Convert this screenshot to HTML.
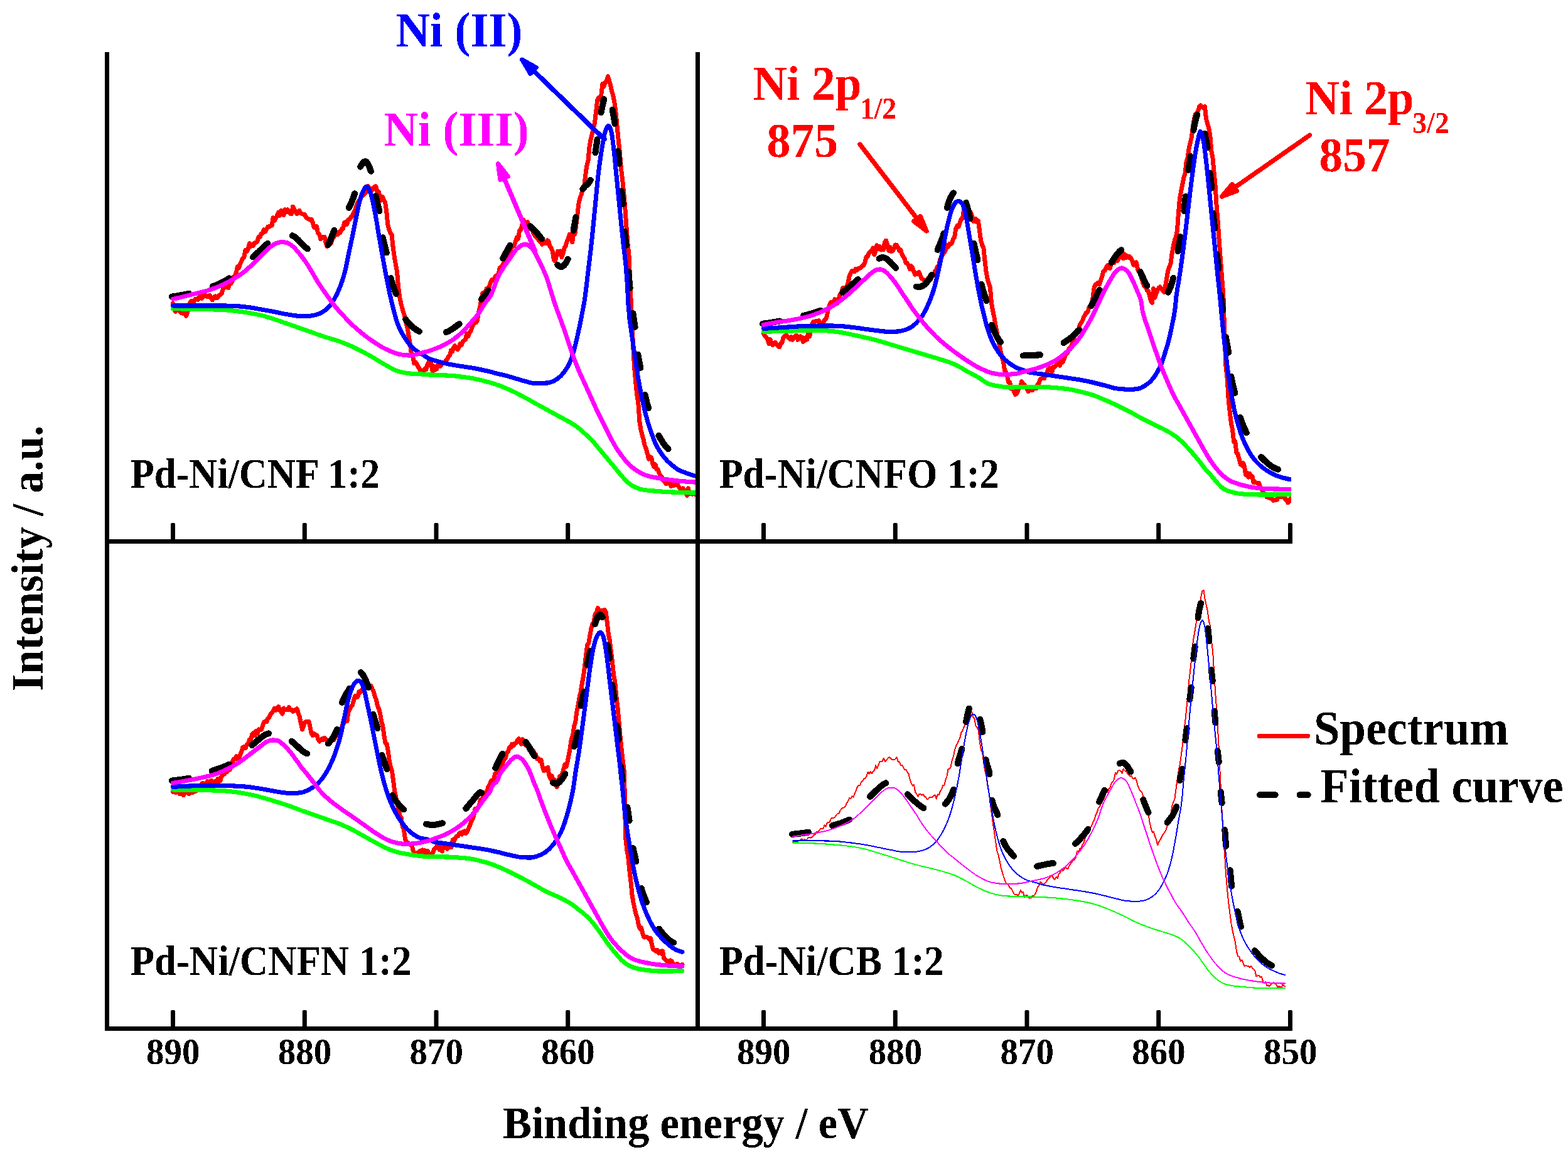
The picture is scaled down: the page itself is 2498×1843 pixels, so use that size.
<!DOCTYPE html>
<html lang="en"><head><meta charset="utf-8"><title>Ni 2p XPS spectra</title>
<style>html,body{margin:0;padding:0;background:#fff}body{width:2498px;height:1843px;overflow:hidden}svg{display:block}text{font-family:"Liberation Serif","Times New Roman",serif;font-weight:bold}</style></head><body>
<svg xmlns="http://www.w3.org/2000/svg" width="2498" height="1843" viewBox="0 0 2498 1843">
<rect width="2498" height="1843" fill="#fff"/>
<g fill="none" stroke-linejoin="round" stroke-linecap="round" clip-path="url(#c_p1)">
<polyline filter="url(#th_p1)" stroke="#ff0000" stroke-width="7" points="275.5,483.2 277.6,492.6 279.7,496.4 281.8,493.3 283.9,494.6 286.0,494.4 288.1,498.1 290.2,496.7 292.3,499.7 294.4,492.5 296.5,503.2 298.6,498.2 300.7,491.3 302.8,481.9 304.9,479.1 307.0,480.2 309.1,480.2 311.2,476.4 313.3,475.9 315.4,477.7 317.5,472.5 319.6,470.1 321.7,475.5 323.8,472.1 325.9,468.3 328.0,471.8 330.1,473.0 332.2,471.0 334.3,470.3 336.4,475.1 338.5,477.8 340.6,474.2 342.7,472.0 344.8,474.4 346.9,474.3 349.0,469.9 351.1,469.9 353.2,467.8 355.3,460.4 357.4,455.7 359.5,457.8 361.6,456.7 363.7,458.7 365.8,450.8 367.9,451.6 370.0,448.4 372.1,440.5 374.2,439.4 376.3,434.0 378.4,424.8 380.5,426.6 382.6,420.6 384.7,415.9 386.8,411.3 388.9,409.2 391.0,398.4 393.1,400.5 395.2,397.2 397.3,387.5 399.4,392.2 401.5,389.3 403.6,391.4 405.7,386.6 407.8,386.2 409.9,384.6 412.0,377.3 414.1,377.8 416.2,372.1 418.3,371.2 420.4,365.9 422.5,368.8 424.6,365.4 426.7,361.0 428.8,361.1 430.9,360.4 433.0,359.4 435.1,346.7 437.2,351.7 439.3,347.9 441.4,343.5 443.5,338.4 445.6,343.6 447.7,335.4 449.8,340.7 451.9,342.7 454.0,333.9 456.1,337.5 458.2,334.0 460.3,337.7 462.4,340.3 464.5,340.9 466.6,329.1 468.7,332.9 470.8,337.3 472.9,340.6 475.0,338.0 477.1,335.5 479.2,339.8 481.3,340.3 483.4,341.4 485.5,341.5 487.6,346.5 489.7,348.0 491.8,348.6 493.9,350.2 496.0,349.2 498.1,354.1 500.2,362.1 502.3,361.0 504.4,360.4 506.5,371.7 508.6,372.6 510.7,380.6 512.8,377.5 514.9,378.5 517.0,377.4 519.1,387.4 521.2,392.7 523.3,383.6 525.4,384.6 527.5,387.3 529.6,380.0 531.7,377.8 533.8,373.9 535.9,372.9 538.0,373.8 540.1,369.1 542.2,370.3 544.3,364.6 546.4,364.6 548.5,354.6 550.6,353.7 552.7,357.3 554.8,349.8 556.9,349.8 559.0,345.9 561.1,344.3 563.2,338.9 565.3,335.8 567.4,328.9 569.5,323.6 571.6,320.1 573.7,317.7 575.8,312.8 577.9,311.5 580.0,309.7 582.1,307.7 584.2,303.3 586.3,296.3 588.4,300.4 590.5,300.6 592.6,302.8 594.7,301.1 596.8,297.2 598.9,296.8 601.0,305.5 603.1,305.1 605.2,313.3 607.3,319.1 609.4,313.3 611.5,319.0 613.6,322.4 615.7,336.5 617.8,358.2 619.9,365.7 622.0,371.2 624.1,373.8 626.2,394.3 628.3,409.3 630.4,421.5 632.5,432.6 634.6,456.6 636.7,473.4 638.8,483.3 640.9,491.5 643.0,498.5 645.1,505.6 647.2,515.4 649.3,523.9 651.4,536.8 653.5,549.2 655.6,565.3 657.7,568.2 659.8,578.9 661.9,576.7 664.0,579.3 666.1,584.1 668.2,587.0 670.3,593.4 672.4,593.1 674.5,590.9 676.6,587.4 678.7,588.7 680.8,580.9 682.9,576.7 685.0,581.7 687.1,579.4 689.2,591.8 691.2,583.3 693.3,589.2 695.4,588.1 697.5,580.1 699.6,583.1 701.7,583.2 703.8,580.0 705.9,577.9 708.0,578.4 710.1,574.3 712.2,572.7 714.3,568.3 716.4,566.7 718.5,558.0 720.6,559.9 722.7,553.9 724.8,550.7 726.9,554.0 729.0,556.9 731.1,553.5 733.2,547.5 735.3,549.2 737.4,543.7 739.5,542.4 741.6,540.7 743.7,531.0 745.8,535.9 747.9,529.4 750.0,527.3 752.1,521.3 754.2,517.1 756.3,514.0 758.4,513.8 760.5,510.0 762.6,497.2 764.7,488.7 766.8,476.9 768.9,466.8 771.0,468.5 773.1,465.6 775.2,459.6 777.3,458.8 779.4,456.9 781.5,449.9 783.6,445.4 785.7,446.2 787.8,443.1 789.9,439.1 792.0,439.0 794.1,436.9 796.2,426.3 798.3,425.8 800.4,422.7 802.5,418.4 804.6,415.8 806.7,407.9 808.8,407.7 810.9,407.9 813.0,400.6 815.1,392.7 817.2,392.8 819.3,391.0 821.4,384.5 823.5,377.8 825.6,380.0 827.7,366.9 829.8,365.8 831.9,358.1 834.0,350.4 836.1,355.7 838.2,354.6 840.3,353.6 842.4,363.4 844.5,364.5 846.6,363.0 848.7,368.8 850.8,373.7 852.9,376.9 855.0,378.1 857.1,380.5 859.2,384.4 861.3,384.3 863.4,389.5 865.5,386.4 867.6,386.9 869.7,387.6 871.8,382.8 873.9,383.9 876.0,392.9 878.1,395.0 880.2,400.0 882.3,413.5 884.4,416.0 886.5,407.7 888.6,400.1 890.7,403.9 892.8,399.9 894.9,409.8 897.0,403.6 899.1,395.0 901.2,391.7 903.3,384.5 905.4,379.4 907.5,373.2 909.6,376.8 911.7,385.9 913.8,370.2 915.9,373.1 918.0,357.3 920.1,339.8 922.2,322.1 924.3,314.0 926.4,309.6 928.5,300.3 930.6,297.5 932.7,279.2 934.8,263.8 936.9,256.8 939.0,233.5 941.1,221.9 943.2,213.8 945.3,203.9 947.4,195.9 949.5,178.5 951.6,159.4 953.7,155.4 955.8,158.2 957.9,150.0 960.0,133.5 962.1,137.4 964.2,130.9 966.3,129.3 968.4,121.6 970.5,128.3 972.6,135.5 974.7,145.7 976.8,152.6 978.9,163.2 981.0,179.0 983.1,200.8 985.2,222.9 987.3,242.4 989.4,268.0 991.5,285.2 993.6,305.4 995.7,329.9 997.8,359.1 999.9,386.9 1002.0,407.2 1004.1,454.5 1006.2,503.2 1008.3,544.8 1010.4,582.1 1012.5,607.2 1014.6,627.9 1016.7,640.3 1018.8,670.9 1020.9,684.6 1023.0,692.2 1025.1,700.1 1027.2,710.1 1029.3,714.5 1031.4,722.6 1033.5,731.1 1035.6,727.5 1037.7,728.9 1039.8,738.9 1041.9,743.4 1044.0,739.7 1046.1,747.5 1048.2,748.0 1050.3,754.2 1052.4,758.0 1054.5,760.1 1056.6,765.3 1058.7,767.1 1060.8,770.5 1062.9,770.2 1065.0,767.3 1067.1,767.4 1069.2,774.7 1071.3,769.5 1073.4,773.5 1075.5,772.7 1077.6,771.2 1079.7,772.1 1081.8,776.2 1083.9,778.3 1086.0,781.4 1088.1,777.8 1090.2,781.4 1092.3,783.8 1094.4,789.3 1096.5,777.9 1098.6,786.6 1100.7,784.0 1102.8,787.1 1104.9,784.5 1107.0,787.1"/>
<path filter="url(#th_p1)" stroke="#000" stroke-width="10" d="M273.8 472.6 L275.9 472.3 L278.0 472.0 L280.1 471.7 L282.2 471.4 L284.2 471.0 L286.3 470.6 L288.4 470.2 L290.5 469.8 L292.6 469.4 L294.7 469.0 L296.7 468.6 L298.8 468.1 L300.9 467.7 M338.6 456.5 L340.6 455.7 L342.6 454.9 L344.5 454.1 L346.5 453.2 L348.4 452.3 L350.3 451.4 L352.3 450.5 L354.2 449.6 L356.0 448.6 L357.9 447.6 L359.8 446.5 L361.6 445.5 L363.5 444.4 L365.3 443.3 M403.0 409.6 L404.5 408.2 L406.0 406.9 L407.4 405.5 L408.8 404.1 L410.3 402.7 L411.7 401.3 L413.2 399.9 L414.6 398.5 L416.1 397.1 L417.5 395.7 L419.0 394.4 L420.5 393.0 L422.0 391.7 L423.5 390.3 L425.0 389.0 L426.5 387.7 M465.8 375.2 L467.6 376.1 L469.3 377.1 L470.9 378.4 L472.4 379.7 L473.9 381.0 L475.3 382.4 L476.7 383.9 L478.1 385.3 L479.5 386.8 L480.9 388.3 L482.3 389.7 L483.7 391.2 L485.1 392.6 L486.6 393.9 L488.2 395.2 L489.8 396.4 M522.6 390.1 L523.6 388.3 L524.5 386.4 L525.4 384.5 L526.2 382.5 L527.0 380.6 L527.8 378.6 L528.5 376.7 L529.3 374.7 L530.1 372.7 L530.9 370.8 L531.7 368.8 L532.5 366.9 M555.8 331.0 L556.7 329.2 L557.6 327.3 L558.5 325.5 L559.3 323.6 L560.1 321.7 L560.9 319.9 L561.7 318.0 L562.4 316.1 L563.1 314.1 L563.8 312.2 L564.4 310.3 L565.0 308.3 M574.2 265.6 L575.2 263.8 L576.3 262.0 L577.4 260.3 L578.7 258.8 L580.3 257.5 L582.3 257.0 L584.0 258.0 L585.3 259.6 L586.3 261.4 L587.2 263.3 L588.0 265.1 L588.8 267.0 L589.5 268.9 L590.2 270.9 L590.9 272.8 M598.5 312.3 L599.0 314.4 L599.4 316.4 L599.9 318.4 L600.5 320.4 L601.0 322.4 L601.5 324.3 L602.0 326.3 L602.5 328.3 L603.0 330.3 L603.5 332.4 L603.9 334.4 L604.3 336.4 M609.9 378.3 L610.3 380.3 L610.7 382.3 L611.2 384.4 L611.7 386.4 L612.2 388.4 L612.7 390.4 L613.2 392.4 L613.8 394.4 L614.3 396.4 L614.8 398.4 L615.3 400.5 L615.8 402.5 M622.6 443.0 L623.1 445.0 L623.6 446.9 L624.2 448.9 L624.8 450.8 L625.4 452.7 L626.0 454.6 L626.7 456.5 L627.4 458.4 L628.1 460.3 L628.8 462.2 L629.5 464.1 L630.2 466.0 L630.9 467.9 M646.2 508.8 L647.4 510.4 L648.8 512.1 L650.1 513.7 L651.5 515.2 L652.9 516.8 L654.4 518.3 L656.0 519.7 L657.5 521.1 L659.2 522.4 L660.8 523.7 L662.6 524.9 L664.4 526.0 L666.2 527.0 L668.1 527.9 M710.8 529.1 L712.7 528.4 L714.6 527.5 L716.4 526.6 L718.2 525.5 L719.9 524.4 L721.6 523.3 L723.3 522.1 L725.0 520.9 L726.7 519.7 L728.3 518.5 L729.9 517.2 L731.6 515.9 M766.9 476.8 L768.2 475.3 L769.5 473.7 L770.8 472.2 L772.2 470.7 L773.5 469.1 L774.7 467.5 L775.9 465.9 L777.1 464.3 L778.3 462.6 M801.3 411.5 L802.3 409.5 L803.2 407.7 L804.3 405.8 L805.3 403.9 L806.3 402.0 L807.4 400.1 L808.4 398.3 L809.5 396.4 L810.5 394.5 L811.5 392.7 L812.5 390.8 M844.2 359.9 L845.7 361.2 L847.2 362.6 L848.6 364.0 L850.0 365.4 L851.4 366.8 L852.8 368.3 L854.2 369.8 L855.5 371.2 L856.8 372.8 L858.1 374.3 L859.4 375.8 L860.7 377.4 L861.9 379.0 L863.1 380.5 M888.2 421.9 L889.9 423.3 L891.7 424.4 L893.7 425.0 L895.8 424.6 L897.6 423.4 L899.1 421.9 L900.4 420.2 L901.6 418.4 L902.7 416.6 L903.7 414.7 L904.7 412.8 M913.5 367.3 L913.9 365.1 L914.2 363.0 L914.6 360.9 L915.0 358.8 L915.4 356.7 L915.8 354.6 L916.2 352.5 L916.6 350.3 L917.0 348.2 L917.4 346.1 M928.4 301.4 L929.5 299.6 L930.9 298.0 L932.4 296.4 L934.0 295.0 L935.6 293.6 L937.1 292.1 L938.5 290.4 L939.7 288.7 L940.7 286.8 M948.4 243.2 L948.7 241.1 L949.1 239.0 L949.4 236.9 L949.7 234.8 L950.0 232.7 L950.3 230.6 L950.6 228.5 L950.9 226.4 L951.2 224.3 L951.5 222.2 M957.5 179.2 L957.9 177.1 L958.3 174.9 L958.8 172.8 L959.2 170.7 L959.7 168.6 L960.2 166.4 L960.7 164.3 L961.2 162.2 L961.7 160.1 L962.2 158.0 M975.5 174.8 L975.9 176.8 L976.3 178.8 L976.7 180.8 L977.1 182.8 L977.5 184.8 L977.9 186.8 L978.2 188.8 L978.6 190.8 L978.9 192.9 L979.2 194.9 L979.5 196.9 M984.3 240.8 L984.6 242.8 L984.8 244.8 L985.0 246.8 L985.3 248.8 L985.5 250.8 L985.8 252.8 L986.0 254.8 L986.2 256.8 L986.5 258.8 L986.7 260.8 M990.3 304.8 L990.5 306.8 L990.8 308.8 L991.0 310.8 L991.3 312.8 L991.6 314.8 L991.8 316.8 L992.1 318.8 L992.3 320.8 L992.5 322.8 L992.7 324.8 M995.2 368.8 L995.4 370.8 L995.6 372.8 L995.8 374.8 L996.0 376.8 L996.3 378.8 L996.5 380.8 L996.7 382.8 L997.0 384.8 L997.2 386.8 L997.5 388.8 L997.7 390.8 M1001.2 432.8 L1001.4 434.8 L1001.6 436.8 L1001.8 438.8 L1002.0 440.8 L1002.1 442.8 L1002.3 444.8 L1002.5 446.8 L1002.7 448.8 L1002.9 450.8 L1003.1 452.9 L1003.3 454.9 L1003.5 456.9 L1003.7 458.9 M1008.4 498.9 L1008.7 500.9 L1009.0 502.9 L1009.3 504.9 L1009.6 506.9 L1009.9 508.9 L1010.2 510.9 L1010.5 512.9 L1010.8 514.9 L1011.1 516.9 L1011.3 518.9 L1011.6 520.9 M1016.4 564.9 L1016.8 567.0 L1017.1 569.1 L1017.5 571.2 L1017.9 573.3 L1018.3 575.4 L1018.8 577.6 L1019.2 579.7 L1019.6 581.8 L1020.0 583.9 L1020.5 586.0 M1027.6 628.9 L1028.1 631.0 L1028.6 633.2 L1029.1 635.3 L1029.6 637.4 L1030.2 639.5 L1030.7 641.7 L1031.3 643.8 L1031.9 645.9 L1032.5 648.0 L1033.1 650.1 M1049.4 693.6 L1050.4 695.4 L1051.4 697.2 L1052.4 699.0 L1053.5 700.7 L1054.5 702.4 L1055.6 704.2 L1056.7 705.9 L1057.9 707.6 L1059.1 709.2 L1060.4 710.8 L1061.7 712.4 L1063.1 713.9 L1064.6 715.2"/>
<polyline filter="url(#th_p1)" stroke="#00ff00" stroke-width="7" points="275.5,491.8 277.5,491.8 279.5,491.8 281.5,491.8 283.5,491.8 285.5,491.8 287.5,491.9 289.5,491.9 291.5,491.9 293.5,491.9 295.5,492.0 297.5,492.0 299.5,492.0 301.5,492.1 303.5,492.1 305.5,492.1 307.5,492.2 309.5,492.2 311.5,492.2 313.5,492.3 315.5,492.3 317.5,492.3 319.5,492.4 321.5,492.4 323.5,492.5 325.5,492.5 327.5,492.6 329.5,492.6 331.5,492.7 333.5,492.7 335.5,492.8 337.5,492.8 339.5,492.9 341.5,493.0 343.5,493.1 345.5,493.1 347.5,493.2 349.5,493.3 351.5,493.4 353.5,493.5 355.5,493.6 357.5,493.7 359.4,493.8 361.4,493.9 363.4,494.1 365.4,494.3 367.4,494.5 369.4,494.7 371.4,494.9 373.4,495.2 375.4,495.4 377.4,495.6 379.4,495.9 381.4,496.1 383.4,496.4 385.4,496.7 387.4,497.0 389.4,497.3 391.4,497.6 393.4,497.9 395.4,498.3 397.4,498.6 399.4,499.0 401.4,499.3 403.4,499.7 405.4,500.1 407.4,500.4 409.4,500.8 411.4,501.3 413.4,501.7 415.4,502.1 417.4,502.6 419.4,503.1 421.4,503.6 423.4,504.2 425.4,504.8 427.4,505.4 429.4,506.0 431.4,506.7 433.4,507.3 435.4,508.0 437.4,508.6 439.4,509.3 441.4,510.0 443.4,510.6 445.4,511.4 447.4,512.1 449.4,512.8 451.4,513.5 453.4,514.2 455.4,514.9 457.4,515.6 459.4,516.3 461.4,517.0 463.4,517.7 465.4,518.4 467.4,519.1 469.4,519.8 471.4,520.5 473.4,521.2 475.4,521.9 477.4,522.6 479.4,523.3 481.4,524.0 483.4,524.7 485.4,525.4 487.4,526.1 489.4,526.8 491.4,527.5 493.4,528.2 495.4,528.9 497.4,529.6 499.4,530.3 501.4,531.0 503.4,531.8 505.4,532.5 507.4,533.2 509.4,533.9 511.4,534.6 513.4,535.3 515.4,535.9 517.4,536.6 519.4,537.2 521.4,537.8 523.4,538.3 525.3,538.9 527.3,539.5 529.3,540.1 531.3,540.7 533.3,541.3 535.3,541.9 537.3,542.6 539.3,543.3 541.3,544.0 543.3,544.8 545.3,545.5 547.3,546.3 549.3,547.1 551.3,547.9 553.3,548.7 555.3,549.5 557.3,550.4 559.3,551.3 561.3,552.2 563.3,553.1 565.3,554.0 567.3,555.0 569.3,556.0 571.3,557.0 573.3,558.0 575.3,559.0 577.3,560.0 579.3,561.1 581.3,562.1 583.3,563.2 585.3,564.3 587.3,565.4 589.3,566.6 591.3,567.7 593.3,568.9 595.3,570.0 597.3,571.2 599.3,572.4 601.3,573.6 603.3,574.9 605.3,576.1 607.3,577.3 609.3,578.5 611.3,579.7 613.3,580.9 615.3,582.0 617.3,583.1 619.3,584.2 621.3,585.4 623.3,586.5 625.3,587.6 627.3,588.6 629.3,589.5 631.3,590.3 633.3,591.0 635.3,591.5 637.3,592.1 639.3,592.6 641.3,593.1 643.3,593.5 645.3,593.9 647.3,594.3 649.3,594.6 651.3,594.8 653.3,595.0 655.3,595.2 657.3,595.3 659.3,595.4 661.3,595.5 663.3,595.6 665.3,595.6 667.3,595.7 669.3,595.8 671.3,595.9 673.3,596.0 675.3,596.2 677.3,596.4 679.3,596.6 681.3,596.8 683.3,596.9 685.3,597.0 687.3,597.1 689.3,597.1 691.2,597.2 693.2,597.3 695.2,597.4 697.2,597.4 699.2,597.5 701.2,597.5 703.2,597.6 705.2,597.7 707.2,597.8 709.2,597.9 711.2,598.0 713.2,598.1 715.2,598.2 717.2,598.3 719.2,598.5 721.2,598.7 723.2,598.8 725.2,599.0 727.2,599.2 729.2,599.4 731.2,599.7 733.2,599.9 735.2,600.1 737.2,600.4 739.2,600.6 741.2,600.9 743.2,601.2 745.2,601.5 747.2,601.8 749.2,602.1 751.2,602.5 753.2,602.8 755.2,603.2 757.2,603.6 759.2,604.1 761.2,604.5 763.2,604.9 765.2,605.4 767.2,605.9 769.2,606.3 771.2,606.8 773.2,607.3 775.2,607.8 777.2,608.4 779.2,608.9 781.2,609.5 783.2,610.1 785.2,610.7 787.2,611.4 789.2,612.0 791.2,612.7 793.2,613.4 795.2,614.1 797.2,614.9 799.2,615.6 801.2,616.4 803.2,617.2 805.2,618.1 807.2,618.9 809.2,619.8 811.2,620.6 813.2,621.5 815.2,622.5 817.2,623.4 819.2,624.4 821.2,625.4 823.2,626.4 825.2,627.4 827.2,628.5 829.2,629.5 831.2,630.6 833.2,631.6 835.2,632.7 837.2,633.8 839.2,634.9 841.2,636.0 843.2,637.1 845.2,638.2 847.2,639.3 849.2,640.4 851.2,641.5 853.2,642.6 855.2,643.7 857.2,644.8 859.1,645.9 861.1,647.0 863.1,648.1 865.1,649.2 867.1,650.3 869.1,651.4 871.1,652.5 873.1,653.6 875.1,654.7 877.1,655.8 879.1,656.9 881.1,658.0 883.1,659.1 885.1,660.2 887.1,661.3 889.1,662.4 891.1,663.5 893.1,664.6 895.1,665.7 897.1,666.7 899.1,667.8 901.1,668.8 903.1,669.9 905.1,671.0 907.1,672.1 909.1,673.3 911.1,674.5 913.1,675.7 915.1,677.0 917.1,678.4 919.1,679.8 921.1,681.3 923.1,682.9 925.1,684.6 927.1,686.5 929.1,688.3 931.1,690.2 933.1,692.0 935.1,693.7 937.1,695.4 939.1,697.2 941.1,699.1 943.1,701.2 945.1,703.5 947.1,705.9 949.1,708.4 951.1,710.9 953.1,713.3 955.1,715.7 957.1,718.1 959.1,720.5 961.1,722.9 963.1,725.3 965.1,727.7 967.1,730.1 969.1,732.5 971.1,734.9 973.1,737.3 975.1,739.7 977.1,742.1 979.1,744.5 981.1,746.9 983.1,749.3 985.1,751.8 987.1,754.2 989.1,756.6 991.1,759.0 993.1,761.2 995.1,763.4 997.1,765.5 999.1,767.5 1001.1,769.3 1003.1,770.8 1005.1,772.2 1007.1,773.4 1009.1,774.5 1011.1,775.6 1013.1,776.5 1015.1,777.3 1017.1,778.1 1019.1,778.8 1021.1,779.4 1023.1,779.8 1025.0,780.1 1027.0,780.4 1029.0,780.7 1031.0,781.0 1033.0,781.2 1035.0,781.4 1037.0,781.6 1039.0,781.7 1041.0,781.9 1043.0,782.1 1045.0,782.3 1047.0,782.4 1049.0,782.6 1051.0,782.7 1053.0,782.9 1055.0,783.0 1057.0,783.2 1059.0,783.3 1061.0,783.4 1063.0,783.6 1065.0,783.7 1067.0,783.8 1069.0,783.9 1071.0,784.0 1073.0,784.0 1075.0,784.1 1077.0,784.2 1079.0,784.3 1081.0,784.4 1083.0,784.4 1085.0,784.5 1087.0,784.6 1089.0,784.6 1091.0,784.7 1093.0,784.7 1095.0,784.8 1097.0,784.8 1099.0,784.9 1101.0,784.9 1103.0,785.0 1105.0,785.0 1107.0,785.0"/>
<polyline filter="url(#th_p1)" stroke="#0000ff" stroke-width="7" points="275.5,486.9 277.5,486.9 279.5,486.9 281.5,486.9 283.5,486.9 285.5,486.9 287.5,486.9 289.5,486.9 291.5,486.9 293.5,486.9 295.5,486.9 297.5,486.9 299.5,486.9 301.5,486.9 303.5,486.9 305.5,486.9 307.5,486.9 309.5,486.9 311.5,486.9 313.5,486.9 315.5,486.9 317.5,486.9 319.5,486.9 321.5,486.9 323.5,486.9 325.5,486.9 327.5,486.9 329.5,486.9 331.5,486.9 333.5,486.9 335.5,486.9 337.5,486.9 339.5,486.9 341.5,486.9 343.5,486.9 345.5,487.0 347.5,487.0 349.5,487.0 351.5,487.0 353.5,487.0 355.5,487.1 357.5,487.1 359.4,487.1 361.4,487.1 363.4,487.2 365.4,487.2 367.4,487.2 369.4,487.2 371.4,487.3 373.4,487.4 375.4,487.5 377.4,487.6 379.4,487.7 381.4,487.9 383.4,488.1 385.4,488.3 387.4,488.6 389.4,488.8 391.4,489.0 393.4,489.3 395.4,489.5 397.4,489.8 399.4,490.0 401.4,490.3 403.4,490.6 405.4,491.0 407.4,491.3 409.4,491.7 411.4,492.1 413.4,492.4 415.4,492.8 417.4,493.2 419.4,493.5 421.4,493.9 423.4,494.2 425.4,494.6 427.4,494.9 429.4,495.3 431.4,495.7 433.4,496.0 435.4,496.4 437.4,496.8 439.4,497.2 441.4,497.6 443.4,498.0 445.4,498.4 447.4,498.9 449.4,499.3 451.4,499.7 453.4,500.1 455.4,500.4 457.4,500.7 459.4,501.1 461.4,501.4 463.4,501.8 465.4,502.1 467.4,502.4 469.4,502.7 471.4,502.9 473.4,503.1 475.4,503.2 477.4,503.2 479.4,503.2 481.4,503.2 483.4,503.2 485.4,503.2 487.4,503.2 489.4,503.2 491.4,503.2 493.4,503.2 495.4,503.0 497.4,502.7 499.4,502.3 501.4,501.8 503.4,501.3 505.4,500.8 507.4,500.1 509.4,499.3 511.4,498.3 513.4,497.2 515.4,495.9 517.4,494.6 519.4,493.0 521.4,491.2 523.4,489.3 525.3,487.1 527.3,484.6 529.3,481.7 531.3,478.5 533.3,474.9 535.3,471.2 537.3,467.2 539.3,462.8 541.3,458.0 543.3,452.8 545.3,447.1 547.3,440.6 549.3,433.2 551.3,424.9 553.3,415.0 555.3,404.8 557.3,395.5 559.3,386.3 561.3,376.8 563.3,366.8 565.3,356.7 567.3,346.8 569.3,336.9 571.3,327.4 573.3,319.5 575.3,312.6 577.3,306.8 579.3,302.7 581.3,299.3 583.3,297.2 585.3,297.6 587.3,300.6 589.3,305.1 591.3,310.4 593.3,318.7 595.3,327.9 597.3,337.9 599.3,348.8 601.3,360.9 603.3,373.2 605.3,385.0 607.3,396.3 609.3,407.5 611.3,418.7 613.3,429.7 615.3,440.2 617.3,450.4 619.3,460.2 621.3,469.4 623.3,478.3 625.3,486.6 627.3,494.4 629.3,502.1 631.3,509.1 633.3,515.2 635.3,520.2 637.3,524.6 639.3,528.6 641.3,532.2 643.3,535.6 645.3,538.8 647.3,541.9 649.3,544.7 651.3,547.3 653.3,549.7 655.3,551.8 657.3,553.7 659.3,555.5 661.3,557.2 663.3,558.7 665.3,560.0 667.3,561.2 669.3,562.3 671.3,563.5 673.3,564.7 675.3,566.0 677.3,567.5 679.3,568.8 681.3,570.0 683.3,571.0 685.3,571.8 687.3,572.5 689.3,573.1 691.2,573.8 693.2,574.4 695.2,575.0 697.2,575.6 699.2,576.2 701.2,576.7 703.2,577.3 705.2,577.8 707.2,578.3 709.2,578.8 711.2,579.2 713.2,579.7 715.2,580.1 717.2,580.5 719.2,580.8 721.2,581.2 723.2,581.5 725.2,581.9 727.2,582.2 729.2,582.5 731.2,582.9 733.2,583.2 735.2,583.5 737.2,583.8 739.2,584.1 741.2,584.4 743.2,584.7 745.2,584.9 747.2,585.2 749.2,585.5 751.2,585.9 753.2,586.2 755.2,586.6 757.2,586.9 759.2,587.3 761.2,587.7 763.2,588.1 765.2,588.5 767.2,589.0 769.2,589.4 771.2,589.8 773.2,590.3 775.2,590.7 777.2,591.2 779.2,591.7 781.2,592.2 783.2,592.7 785.2,593.3 787.2,593.8 789.2,594.3 791.2,594.8 793.2,595.3 795.2,595.8 797.2,596.3 799.2,596.8 801.2,597.2 803.2,597.7 805.2,598.2 807.2,598.7 809.2,599.2 811.2,599.8 813.2,600.3 815.2,600.9 817.2,601.5 819.2,602.1 821.2,602.8 823.2,603.4 825.2,604.0 827.2,604.7 829.2,605.2 831.2,605.8 833.2,606.3 835.2,606.9 837.2,607.4 839.2,608.0 841.2,608.6 843.2,609.1 845.2,609.6 847.2,610.0 849.2,610.2 851.2,610.4 853.2,610.4 855.2,610.4 857.2,610.4 859.1,610.4 861.1,610.3 863.1,610.3 865.1,610.2 867.1,610.2 869.1,610.1 871.1,610.0 873.1,609.9 875.1,609.5 877.1,608.9 879.1,608.2 881.1,607.4 883.1,606.5 885.1,605.3 887.1,604.0 889.1,602.4 891.1,600.8 893.1,599.0 895.1,596.9 897.1,594.6 899.1,592.1 901.1,589.3 903.1,586.2 905.1,582.7 907.1,578.7 909.1,574.2 911.1,568.9 913.1,562.5 915.1,555.3 917.1,547.6 919.1,539.2 921.1,530.1 923.1,520.8 925.1,510.9 927.1,500.7 929.1,490.3 931.1,479.6 933.1,465.6 935.1,447.9 937.1,430.9 939.1,414.7 941.1,398.0 943.1,379.7 945.1,359.7 947.1,339.1 949.1,318.7 951.1,297.5 953.1,277.8 955.1,261.6 957.1,247.7 959.1,235.3 961.1,223.7 963.1,213.2 965.1,207.1 967.1,202.6 969.1,200.1 971.1,201.5 973.1,206.8 975.1,215.6 977.1,231.9 979.1,249.9 981.1,270.5 983.1,290.7 985.1,310.7 987.1,330.7 989.1,351.0 991.1,371.0 993.1,389.5 995.1,405.8 997.1,423.7 999.1,450.2 1001.1,487.2 1003.1,509.6 1005.1,523.6 1007.1,537.7 1009.1,551.9 1011.1,565.7 1013.1,579.0 1015.1,592.2 1017.1,604.5 1019.1,615.8 1021.1,626.1 1023.1,635.7 1025.0,644.6 1027.0,653.2 1029.0,661.2 1031.0,668.7 1033.0,675.4 1035.0,681.6 1037.0,687.3 1039.0,693.0 1041.0,698.6 1043.0,703.8 1045.0,708.1 1047.0,711.9 1049.0,715.4 1051.0,718.5 1053.0,721.5 1055.0,724.4 1057.0,727.1 1059.0,729.6 1061.0,731.9 1063.0,734.1 1065.0,736.0 1067.0,737.9 1069.0,739.6 1071.0,741.2 1073.0,742.8 1075.0,744.4 1077.0,745.9 1079.0,747.2 1081.0,748.5 1083.0,749.5 1085.0,750.4 1087.0,751.2 1089.0,751.9 1091.0,752.6 1093.0,753.4 1095.0,754.1 1097.0,754.8 1099.0,755.5 1101.0,756.1 1103.0,756.8 1105.0,757.4 1107.0,758.0"/>
<polyline filter="url(#th_p1)" stroke="#ff00ff" stroke-width="7" points="275.5,476.4 277.5,475.9 279.5,475.5 281.5,475.0 283.5,474.5 285.5,474.1 287.5,473.6 289.5,473.1 291.5,472.6 293.5,472.1 295.5,471.6 297.5,471.1 299.5,470.6 301.5,470.1 303.5,469.6 305.5,469.1 307.5,468.6 309.5,468.1 311.5,467.6 313.5,467.1 315.5,466.7 317.5,466.2 319.5,465.7 321.5,465.2 323.5,464.7 325.5,464.2 327.5,463.7 329.5,463.1 331.5,462.5 333.5,461.8 335.5,461.2 337.5,460.5 339.5,459.8 341.5,459.1 343.5,458.4 345.5,457.6 347.5,456.8 349.5,456.0 351.5,455.1 353.5,454.2 355.5,453.3 357.5,452.3 359.4,451.3 361.4,450.2 363.4,449.2 365.4,448.1 367.4,447.0 369.4,445.8 371.4,444.7 373.4,443.5 375.4,442.2 377.4,441.0 379.4,439.7 381.4,438.3 383.4,437.0 385.4,435.5 387.4,434.1 389.4,432.5 391.4,430.9 393.4,429.2 395.4,427.4 397.4,425.6 399.4,423.8 401.4,421.9 403.4,420.0 405.4,418.1 407.4,416.1 409.4,414.2 411.4,412.2 413.4,410.2 415.4,408.1 417.4,406.1 419.4,404.1 421.4,402.2 423.4,400.2 425.4,398.2 427.4,396.2 429.4,394.3 431.4,392.7 433.4,391.3 435.4,390.0 437.4,388.8 439.4,387.8 441.4,387.0 443.4,386.4 445.4,386.0 447.4,385.6 449.4,385.6 451.4,385.7 453.4,385.9 455.4,386.3 457.4,386.7 459.4,387.5 461.4,388.6 463.4,390.0 465.4,391.6 467.4,393.1 469.4,395.1 471.4,397.3 473.4,399.6 475.4,402.1 477.4,404.5 479.4,406.9 481.4,409.5 483.4,412.1 485.4,414.9 487.4,417.8 489.4,420.9 491.4,424.1 493.4,427.4 495.4,430.7 497.4,434.0 499.4,437.5 501.4,440.9 503.4,444.4 505.4,447.7 507.4,450.9 509.4,453.9 511.4,456.9 513.4,459.8 515.4,462.8 517.4,465.6 519.4,468.5 521.4,471.3 523.4,474.0 525.3,476.8 527.3,479.5 529.3,482.1 531.3,484.8 533.3,487.3 535.3,489.8 537.3,492.1 539.3,494.3 541.3,496.5 543.3,498.6 545.3,500.8 547.3,503.0 549.3,505.3 551.3,507.5 553.3,509.7 555.3,511.7 557.3,513.7 559.3,515.6 561.3,517.5 563.3,519.3 565.3,521.1 567.3,522.9 569.3,524.6 571.3,526.3 573.3,528.0 575.3,529.6 577.3,531.3 579.3,532.9 581.3,534.4 583.3,536.0 585.3,537.5 587.3,539.0 589.3,540.4 591.3,541.8 593.3,543.2 595.3,544.5 597.3,545.8 599.3,547.2 601.3,548.4 603.3,549.7 605.3,550.9 607.3,552.1 609.3,553.2 611.3,554.3 613.3,555.3 615.3,556.3 617.3,557.2 619.3,558.2 621.3,559.1 623.3,559.9 625.3,560.8 627.3,561.5 629.3,562.2 631.3,562.9 633.3,563.5 635.3,564.0 637.3,564.5 639.3,564.9 641.3,565.3 643.3,565.5 645.3,565.6 647.3,565.8 649.3,565.9 651.3,565.9 653.3,565.9 655.3,565.9 657.3,565.6 659.3,565.3 661.3,564.9 663.3,564.5 665.3,564.1 667.3,563.5 669.3,562.8 671.3,562.1 673.3,561.6 675.3,561.0 677.3,560.6 679.3,560.1 681.3,559.6 683.3,559.0 685.3,558.4 687.3,557.7 689.3,557.0 691.2,556.3 693.2,555.5 695.2,554.7 697.2,553.9 699.2,553.1 701.2,552.2 703.2,551.4 705.2,550.4 707.2,549.5 709.2,548.5 711.2,547.4 713.2,546.3 715.2,545.1 717.2,543.9 719.2,542.6 721.2,541.3 723.2,539.9 725.2,538.4 727.2,536.9 729.2,535.3 731.2,533.6 733.2,531.9 735.2,530.1 737.2,528.2 739.2,526.2 741.2,524.1 743.2,521.9 745.2,519.7 747.2,517.4 749.2,515.2 751.2,512.9 753.2,510.6 755.2,508.4 757.2,506.1 759.2,503.6 761.2,501.1 763.2,498.3 765.2,495.1 767.2,491.8 769.2,488.4 771.2,485.2 773.2,482.3 775.2,479.6 777.2,477.1 779.2,474.4 781.2,471.4 783.2,467.7 785.2,462.9 787.2,457.5 789.2,451.9 791.2,446.5 793.2,441.7 795.2,437.7 797.2,434.1 799.2,430.8 801.2,427.6 803.2,424.6 805.2,421.6 807.2,418.8 809.2,416.0 811.2,413.2 813.2,410.3 815.2,407.3 817.2,404.3 819.2,401.4 821.2,398.9 823.2,396.7 825.2,395.0 827.2,393.4 829.2,391.9 831.2,390.5 833.2,389.6 835.2,389.1 837.2,389.1 839.2,389.7 841.2,390.6 843.2,391.9 845.2,393.4 847.2,395.1 849.2,397.7 851.2,401.0 853.2,404.7 855.2,408.5 857.2,412.1 859.1,415.9 861.1,420.0 863.1,424.2 865.1,428.5 867.1,433.0 869.1,437.8 871.1,443.1 873.1,449.0 875.1,455.4 877.1,462.0 879.1,468.6 881.1,475.2 883.1,481.4 885.1,487.3 887.1,492.8 889.1,498.2 891.1,503.6 893.1,509.1 895.1,514.7 897.1,520.2 899.1,525.8 901.1,531.5 903.1,537.3 905.1,543.4 907.1,549.5 909.1,555.6 911.1,561.5 913.1,567.1 915.1,572.5 917.1,577.8 919.1,582.9 921.1,587.9 923.1,592.6 925.1,597.1 927.1,601.5 929.1,605.7 931.1,610.0 933.1,614.4 935.1,618.8 937.1,623.2 939.1,627.6 941.1,632.0 943.1,636.4 945.1,640.9 947.1,645.3 949.1,649.8 951.1,654.1 953.1,658.3 955.1,662.3 957.1,666.3 959.1,670.2 961.1,674.2 963.1,678.2 965.1,682.2 967.1,686.3 969.1,690.3 971.1,694.2 973.1,698.0 975.1,701.8 977.1,705.5 979.1,709.1 981.1,712.5 983.1,715.7 985.1,718.6 987.1,721.5 989.1,724.2 991.1,726.8 993.1,729.4 995.1,732.0 997.1,734.5 999.1,736.9 1001.1,739.1 1003.1,741.0 1005.1,742.8 1007.1,744.4 1009.1,745.9 1011.1,747.3 1013.1,748.7 1015.1,750.0 1017.1,751.3 1019.1,752.5 1021.1,753.5 1023.1,754.5 1025.0,755.4 1027.0,756.3 1029.0,757.0 1031.0,757.7 1033.0,758.3 1035.0,758.8 1037.0,759.3 1039.0,759.7 1041.0,760.1 1043.0,760.5 1045.0,760.8 1047.0,761.2 1049.0,761.5 1051.0,761.8 1053.0,762.2 1055.0,762.5 1057.0,762.9 1059.0,763.2 1061.0,763.5 1063.0,763.8 1065.0,764.1 1067.0,764.4 1069.0,764.6 1071.0,764.9 1073.0,765.1 1075.0,765.3 1077.0,765.6 1079.0,765.8 1081.0,766.0 1083.0,766.2 1085.0,766.4 1087.0,766.6 1089.0,766.7 1091.0,766.9 1093.0,767.1 1095.0,767.3 1097.0,767.4 1099.0,767.5 1101.0,767.7 1103.0,767.8 1105.0,767.9 1107.0,768.0"/>
</g>
<g fill="none" stroke-linejoin="round" stroke-linecap="round" clip-path="url(#c_p2)">
<polyline filter="url(#th_p2)" stroke="#ff0000" stroke-width="7" points="1216.5,531.3 1218.6,535.2 1220.7,537.2 1222.8,540.7 1224.9,547.5 1227.0,540.7 1229.1,548.2 1231.2,549.6 1233.3,546.0 1235.4,545.6 1237.5,549.1 1239.6,551.2 1241.7,552.9 1243.8,547.1 1245.9,545.8 1248.0,537.9 1250.1,535.7 1252.2,533.8 1254.3,535.8 1256.4,538.5 1258.5,540.4 1260.6,536.5 1262.7,541.4 1264.8,537.9 1266.9,535.3 1269.0,534.1 1271.1,541.4 1273.2,537.4 1275.3,535.8 1277.3,536.8 1279.4,544.7 1281.5,538.3 1283.6,541.9 1285.7,540.8 1287.8,528.8 1289.9,535.6 1292.0,524.6 1294.1,514.9 1296.2,512.3 1298.3,512.3 1300.4,511.0 1302.5,512.1 1304.6,510.6 1306.7,517.1 1308.8,517.7 1310.9,516.5 1313.0,510.6 1315.1,508.7 1317.2,504.4 1319.3,493.4 1321.4,486.6 1323.5,481.7 1325.6,481.5 1327.7,482.7 1329.8,476.5 1331.9,480.6 1334.0,483.1 1336.1,476.5 1338.2,468.7 1340.3,467.7 1342.4,458.7 1344.5,459.0 1346.6,460.2 1348.7,456.4 1350.8,451.4 1352.9,440.8 1355.0,435.2 1357.1,431.6 1359.2,431.1 1361.3,432.9 1363.4,428.2 1365.5,430.4 1367.6,427.4 1369.7,427.3 1371.8,426.3 1373.9,423.3 1376.0,422.5 1378.1,417.3 1380.2,408.8 1382.3,408.4 1384.4,403.0 1386.5,401.0 1388.6,399.3 1390.7,394.9 1392.8,405.6 1394.9,399.5 1397.0,390.9 1399.0,396.0 1401.1,392.6 1403.2,398.0 1405.3,397.6 1407.4,397.7 1409.5,385.9 1411.6,383.3 1413.7,390.0 1415.8,399.1 1417.9,393.5 1420.0,400.6 1422.1,399.7 1424.2,396.3 1426.3,390.0 1428.4,390.3 1430.5,394.2 1432.6,399.2 1434.7,397.8 1436.8,404.7 1438.9,408.6 1441.0,411.6 1443.1,418.9 1445.2,418.8 1447.3,422.9 1449.4,428.6 1451.5,423.6 1453.6,426.4 1455.7,432.1 1457.8,437.4 1459.9,435.1 1462.0,436.6 1464.1,433.5 1466.2,438.8 1468.3,443.6 1470.4,445.0 1472.5,446.7 1474.6,449.3 1476.7,446.0 1478.8,443.0 1480.9,446.2 1483.0,444.4 1485.1,437.9 1487.2,438.9 1489.3,432.4 1491.4,429.7 1493.5,424.5 1495.6,423.2 1497.7,413.6 1499.8,409.3 1501.9,405.1 1504.0,402.8 1506.1,399.4 1508.2,390.4 1510.3,393.3 1512.4,388.4 1514.5,388.8 1516.6,386.9 1518.6,380.7 1520.7,377.6 1522.8,363.9 1524.9,359.6 1527.0,361.2 1529.1,355.3 1531.2,348.6 1533.3,348.2 1535.4,335.2 1537.5,335.2 1539.6,334.0 1541.7,330.7 1543.8,336.1 1545.9,336.8 1548.0,342.7 1550.1,352.2 1552.2,352.3 1554.3,348.4 1556.4,354.0 1558.5,351.9 1560.6,368.1 1562.7,383.6 1564.8,390.4 1566.9,394.6 1569.0,415.5 1571.1,433.0 1573.2,444.3 1575.3,451.7 1577.4,457.8 1579.5,483.0 1581.6,494.5 1583.7,504.4 1585.8,516.8 1587.9,528.1 1590.0,539.2 1592.1,548.8 1594.2,559.4 1596.3,568.8 1598.4,576.2 1600.5,589.9 1602.6,592.8 1604.7,599.4 1606.8,609.3 1608.9,609.5 1611.0,619.2 1613.1,618.2 1615.2,623.0 1617.3,628.6 1619.4,627.3 1621.5,622.7 1623.6,616.5 1625.7,614.6 1627.8,607.6 1629.9,611.7 1632.0,612.9 1634.1,616.0 1636.2,619.9 1638.2,623.4 1640.3,622.1 1642.4,619.2 1644.5,621.9 1646.6,619.2 1648.7,618.2 1650.8,618.5 1652.9,613.2 1655.0,610.0 1657.1,604.5 1659.2,602.6 1661.3,602.1 1663.4,603.0 1665.5,598.4 1667.6,595.3 1669.7,588.2 1671.8,586.4 1673.9,586.6 1676.0,592.2 1678.1,584.1 1680.2,584.5 1682.3,582.6 1684.4,580.3 1686.5,579.2 1688.6,582.3 1690.7,574.6 1692.8,577.3 1694.9,572.5 1697.0,566.1 1699.1,563.7 1701.2,560.7 1703.3,554.8 1705.4,555.8 1707.5,549.1 1709.6,544.2 1711.7,535.0 1713.8,533.5 1715.9,525.8 1718.0,528.5 1720.1,517.6 1722.2,514.5 1724.3,511.1 1726.4,505.3 1728.5,501.8 1730.6,497.9 1732.7,497.6 1734.8,490.1 1736.9,487.6 1739.0,483.9 1741.1,473.7 1743.2,457.5 1745.3,453.0 1747.4,453.0 1749.5,450.1 1751.6,453.0 1753.7,446.7 1755.8,440.7 1757.9,432.0 1759.9,431.4 1762.0,426.5 1764.1,422.9 1766.2,421.9 1768.3,427.7 1770.4,418.2 1772.5,415.5 1774.6,418.8 1776.7,416.0 1778.8,411.9 1780.9,415.0 1783.0,407.1 1785.1,409.0 1787.2,405.4 1789.3,411.9 1791.4,404.8 1793.5,411.0 1795.6,407.5 1797.7,410.2 1799.8,408.9 1801.9,411.4 1804.0,416.1 1806.1,422.3 1808.2,419.4 1810.3,417.9 1812.4,428.6 1814.5,433.2 1816.6,434.3 1818.7,443.6 1820.8,450.6 1822.9,455.8 1825.0,453.8 1827.1,462.3 1829.2,463.5 1831.3,470.7 1833.4,479.0 1835.5,482.6 1837.6,459.6 1839.7,474.2 1841.8,467.8 1843.9,462.7 1846.0,458.6 1848.1,457.0 1850.2,459.9 1852.3,462.7 1854.4,465.3 1856.5,456.4 1858.6,444.0 1860.7,431.5 1862.8,425.6 1864.9,420.4 1867.0,404.5 1869.1,393.2 1871.2,383.0 1873.3,378.3 1875.4,367.0 1877.5,338.4 1879.5,315.6 1881.6,304.8 1883.7,294.0 1885.8,283.5 1887.9,277.1 1890.0,258.2 1892.1,250.9 1894.2,236.2 1896.3,227.0 1898.4,218.3 1900.5,201.1 1902.6,189.0 1904.7,181.5 1906.8,179.6 1908.9,176.0 1911.0,169.0 1913.1,167.9 1915.2,170.9 1917.3,170.1 1919.4,169.8 1921.5,189.2 1923.6,197.0 1925.7,203.9 1927.8,215.5 1929.9,240.8 1932.0,251.9 1934.1,275.1 1936.2,297.2 1938.3,330.8 1940.4,355.8 1942.5,387.0 1944.6,416.3 1946.7,443.1 1948.8,468.9 1950.9,534.0 1953.0,584.0 1955.1,602.3 1957.2,636.7 1959.3,657.0 1961.4,674.4 1963.5,684.3 1965.6,703.7 1967.7,702.8 1969.8,721.2 1971.9,722.8 1974.0,730.9 1976.1,739.4 1978.2,741.0 1980.3,737.2 1982.4,742.8 1984.5,756.4 1986.6,753.4 1988.7,760.1 1990.8,754.2 1992.9,759.8 1995.0,758.8 1997.1,768.8 1999.2,767.6 2001.2,769.0 2003.3,769.6 2005.4,769.2 2007.5,774.7 2009.6,778.8 2011.7,782.6 2013.8,787.8 2015.9,786.8 2018.0,791.7 2020.1,791.9 2022.2,793.4 2024.3,789.4 2026.4,794.4 2028.5,797.6 2030.6,796.3 2032.7,796.5 2034.8,796.0 2036.9,787.0 2039.0,791.6 2041.1,791.6 2043.2,791.0 2045.3,789.9 2047.4,795.4 2049.5,795.6 2051.6,801.0 2053.7,799.3 2055.8,794.6 2057.9,792.3 2060.0,791.8"/>
<path filter="url(#th_p2)" stroke="#000" stroke-width="10" d="M1215.0 515.7 L1217.1 515.4 L1219.2 515.1 L1221.2 514.9 L1223.3 514.6 L1225.4 514.3 L1227.5 514.0 L1229.6 513.6 L1231.7 513.3 L1233.7 513.0 L1235.8 512.6 L1237.9 512.3 L1240.0 511.9 L1242.0 511.5 M1279.9 502.8 L1281.9 502.3 L1283.9 501.8 L1285.8 501.3 L1287.8 500.8 L1289.8 500.2 L1291.8 499.7 L1293.7 499.1 L1295.7 498.5 L1297.7 497.9 L1299.6 497.3 L1301.5 496.6 L1303.5 495.9 L1305.4 495.2 L1307.3 494.4 M1342.3 466.1 L1343.8 464.8 L1345.4 463.5 L1346.9 462.2 L1348.5 460.9 L1350.0 459.6 L1351.6 458.3 L1353.1 457.0 L1354.6 455.7 L1356.2 454.4 L1357.7 453.0 L1359.2 451.7 L1360.8 450.4 L1362.3 449.1 L1363.8 447.7 L1365.3 446.4 L1366.8 445.0 M1400.6 412.0 L1402.4 411.0 L1404.3 410.3 L1406.4 410.0 L1408.4 410.4 L1410.4 411.1 L1412.2 412.2 L1413.9 413.4 L1415.5 414.7 L1417.0 416.1 L1418.5 417.6 L1419.9 419.1 L1421.3 420.7 L1422.7 422.2 L1424.1 423.8 L1425.5 425.3 L1426.9 426.8 M1459.9 456.5 L1461.9 457.0 L1464.0 457.2 L1466.1 457.0 L1468.1 456.3 L1470.0 455.4 L1471.7 454.2 L1473.4 452.9 L1474.9 451.4 L1476.3 449.8 L1477.6 448.2 L1478.9 446.5 L1480.1 444.8 L1481.3 443.1 L1482.4 441.3 L1483.5 439.5 L1484.6 437.6 M1493.8 398.1 L1494.5 396.1 L1495.2 394.1 L1496.0 392.1 L1496.9 390.1 L1497.7 388.1 L1498.6 386.2 L1499.5 384.2 L1500.3 382.2 L1501.0 380.2 L1501.7 378.1 L1502.3 376.1 L1502.8 374.0 L1503.3 371.9 M1508.8 331.1 L1509.3 329.2 L1509.8 327.2 L1510.4 325.3 L1511.0 323.4 L1511.7 321.5 L1512.4 319.6 L1513.1 317.7 L1513.9 315.9 L1514.8 314.0 L1515.7 312.2 L1516.7 310.5 L1517.8 308.8 L1519.0 307.2 M1539.0 322.8 L1539.6 324.7 L1540.2 326.7 L1540.7 328.6 L1541.3 330.5 L1541.8 332.5 L1542.3 334.4 L1542.8 336.3 L1543.2 338.3 L1543.7 340.2 L1544.1 342.2 L1544.6 344.1 L1545.0 346.1 L1545.4 348.1 M1551.6 387.9 L1552.0 390.0 L1552.4 392.0 L1552.8 394.0 L1553.3 396.0 L1553.8 398.0 L1554.2 400.0 L1554.7 402.0 L1555.2 404.0 L1555.7 406.0 L1556.2 408.0 L1556.6 410.0 L1557.0 412.0 L1557.4 414.1 M1563.6 452.9 L1564.1 455.0 L1564.6 457.0 L1565.2 459.0 L1565.7 461.0 L1566.3 463.1 L1567.0 465.1 L1567.6 467.1 L1568.2 469.1 L1568.9 471.1 L1569.5 473.1 L1570.1 475.1 L1570.7 477.1 L1571.3 479.1 M1580.0 517.8 L1580.7 519.7 L1581.4 521.6 L1582.2 523.5 L1583.0 525.4 L1583.8 527.3 L1584.6 529.1 L1585.5 531.0 L1586.4 532.8 L1587.3 534.6 L1588.3 536.4 L1589.3 538.1 L1590.4 539.9 L1591.5 541.6 L1592.7 543.2 L1594.0 544.8 M1630.0 566.4 L1632.1 566.3 L1634.2 566.2 L1636.2 566.2 L1638.3 566.1 L1640.4 566.0 L1642.5 565.9 L1644.5 565.8 L1646.6 565.8 L1648.7 565.7 L1650.8 565.6 L1652.9 565.5 L1654.9 565.4 L1657.0 565.2 M1694.5 546.3 L1696.1 545.1 L1697.8 543.9 L1699.4 542.8 L1701.1 541.6 L1702.7 540.4 L1704.3 539.2 L1705.9 537.9 L1707.5 536.7 L1709.1 535.4 L1710.6 534.0 L1712.1 532.7 L1713.6 531.3 L1715.0 529.8 L1716.4 528.4 L1717.8 526.9 L1719.1 525.3 M1738.4 487.3 L1739.3 485.5 L1740.3 483.7 L1741.2 481.8 L1742.2 480.0 L1743.2 478.2 L1744.1 476.4 L1745.1 474.6 L1746.1 472.7 L1747.0 470.9 L1748.0 469.1 L1748.9 467.2 L1749.9 465.4 L1750.8 463.6 L1751.7 461.7 M1770.6 418.4 L1771.7 416.6 L1772.8 414.8 L1774.0 413.0 L1775.2 411.2 L1776.4 409.4 L1777.6 407.7 L1778.9 405.9 L1780.2 404.2 L1781.5 402.6 L1783.0 401.0 L1784.6 399.6 L1786.3 398.3 M1816.3 432.7 L1817.2 434.6 L1818.1 436.5 L1819.0 438.4 L1819.9 440.3 L1820.8 442.2 L1821.7 444.1 L1822.6 446.0 L1823.6 447.9 L1824.5 449.8 L1825.5 451.7 L1826.4 453.6 L1827.5 455.4 M1860.8 465.6 L1861.8 463.8 L1862.7 462.0 L1863.5 460.2 L1864.3 458.3 L1865.0 456.4 L1865.7 454.5 L1866.3 452.6 L1866.9 450.7 L1867.5 448.7 L1868.1 446.8 L1868.7 444.8 L1869.2 442.9 M1876.5 400.0 L1876.9 397.9 L1877.2 395.8 L1877.6 393.7 L1878.0 391.7 L1878.4 389.6 L1878.7 387.5 L1879.1 385.4 L1879.5 383.3 L1879.8 381.2 L1880.2 379.1 L1880.5 377.0 M1886.3 336.0 L1886.6 333.9 L1886.8 331.8 L1887.0 329.7 L1887.2 327.6 L1887.4 325.6 L1887.6 323.5 L1887.9 321.4 L1888.1 319.3 L1888.3 317.2 L1888.5 315.1 L1888.7 313.0 M1893.4 271.0 L1893.7 269.0 L1894.0 267.0 L1894.2 265.0 L1894.5 263.0 L1894.8 261.0 L1895.2 259.0 L1895.5 257.0 L1895.8 255.0 L1896.0 253.0 L1896.3 251.0 L1896.6 249.0 M1901.5 207.0 L1901.9 205.0 L1902.3 202.9 L1902.7 200.8 L1903.1 198.8 L1903.5 196.7 L1904.0 194.6 L1904.4 192.6 L1904.9 190.5 L1905.4 188.5 L1906.0 186.5 L1906.6 184.5 L1907.4 182.5 M1919.5 213.0 L1919.9 215.0 L1920.3 217.0 L1920.7 219.0 L1921.1 221.0 L1921.5 223.0 L1921.8 225.0 L1922.2 227.0 L1922.6 229.0 L1922.9 231.0 L1923.3 233.0 L1923.6 235.0 M1927.8 276.0 L1928.0 278.1 L1928.3 280.3 L1928.5 282.5 L1928.7 284.6 L1929.0 286.8 L1929.2 288.9 L1929.4 291.1 L1929.6 293.3 L1929.9 295.4 L1930.1 297.6 L1930.2 299.7 M1932.7 339.6 L1932.9 341.7 L1933.1 343.7 L1933.3 345.7 L1933.5 347.8 L1933.7 349.8 L1933.9 351.8 L1934.1 353.8 L1934.3 355.9 L1934.6 357.9 L1934.8 359.9 L1935.0 361.9 L1935.2 364.0 M1938.8 404.9 L1939.0 407.0 L1939.2 409.1 L1939.4 411.2 L1939.7 413.3 L1939.9 415.4 L1940.1 417.5 L1940.3 419.6 L1940.6 421.7 L1940.8 423.8 L1941.0 425.9 L1941.2 428.0 M1944.8 470.0 L1945.1 472.0 L1945.3 474.1 L1945.6 476.1 L1945.8 478.1 L1946.1 480.1 L1946.4 482.1 L1946.7 484.1 L1947.0 486.2 L1947.3 488.2 L1947.6 490.2 L1947.8 492.2 L1948.1 494.2 M1952.9 536.7 L1953.2 538.8 L1953.6 540.9 L1953.9 543.0 L1954.3 545.1 L1954.7 547.2 L1955.0 549.2 L1955.4 551.3 L1955.8 553.4 L1956.1 555.5 L1956.5 557.6 L1956.8 559.7 L1957.1 561.8 M1961.5 600.0 L1961.8 602.0 L1962.2 604.0 L1962.6 606.0 L1963.0 608.1 L1963.5 610.1 L1963.9 612.1 L1964.4 614.1 L1964.9 616.1 L1965.4 618.1 L1965.9 620.1 L1966.4 622.1 L1966.9 624.1 L1967.3 626.1 M1975.9 664.9 L1976.5 666.8 L1977.1 668.7 L1977.8 670.6 L1978.5 672.5 L1979.2 674.4 L1979.9 676.3 L1980.7 678.2 L1981.5 680.1 L1982.3 681.9 L1983.1 683.8 L1984.0 685.6 L1984.8 687.5 L1985.7 689.3 M2009.1 728.1 L2010.6 729.6 L2012.1 731.1 L2013.6 732.6 L2015.1 734.0 L2016.7 735.4 L2018.2 736.8 L2019.8 738.2 L2021.4 739.6 L2023.1 740.8 L2024.8 742.1 L2026.5 743.3 L2028.3 744.4 L2030.1 745.4 L2032.0 746.3 L2034.0 747.0 L2036.0 747.6"/>
<polyline filter="url(#th_p2)" stroke="#00ff00" stroke-width="7" points="1216.5,528.3 1218.5,528.2 1220.5,528.2 1222.5,528.1 1224.5,528.0 1226.5,528.0 1228.5,527.9 1230.5,527.9 1232.5,527.8 1234.5,527.7 1236.5,527.7 1238.5,527.6 1240.5,527.6 1242.5,527.5 1244.5,527.4 1246.5,527.4 1248.5,527.3 1250.5,527.3 1252.5,527.2 1254.5,527.2 1256.5,527.1 1258.5,527.0 1260.5,527.0 1262.5,526.9 1264.5,526.9 1266.5,526.8 1268.5,526.7 1270.5,526.7 1272.5,526.6 1274.5,526.5 1276.5,526.5 1278.5,526.4 1280.5,526.4 1282.5,526.3 1284.5,526.2 1286.5,526.2 1288.5,526.1 1290.5,526.1 1292.5,526.1 1294.5,526.0 1296.5,526.0 1298.5,526.0 1300.5,526.0 1302.4,526.0 1304.4,526.1 1306.4,526.1 1308.4,526.2 1310.4,526.3 1312.4,526.5 1314.4,526.6 1316.4,526.7 1318.4,526.9 1320.4,527.0 1322.4,527.2 1324.4,527.4 1326.4,527.6 1328.4,527.9 1330.4,528.1 1332.4,528.4 1334.4,528.7 1336.4,529.0 1338.4,529.4 1340.4,529.7 1342.4,530.0 1344.4,530.4 1346.4,530.7 1348.4,531.1 1350.4,531.6 1352.4,532.0 1354.4,532.4 1356.4,532.8 1358.4,533.3 1360.4,533.7 1362.4,534.1 1364.4,534.5 1366.4,535.0 1368.4,535.4 1370.4,535.8 1372.4,536.3 1374.4,536.7 1376.4,537.2 1378.4,537.6 1380.4,538.1 1382.4,538.6 1384.4,539.0 1386.4,539.5 1388.4,540.0 1390.4,540.5 1392.4,541.0 1394.4,541.5 1396.4,542.0 1398.4,542.6 1400.4,543.1 1402.4,543.7 1404.4,544.2 1406.4,544.8 1408.4,545.4 1410.4,546.1 1412.4,546.7 1414.4,547.3 1416.4,547.9 1418.4,548.5 1420.4,549.1 1422.4,549.7 1424.4,550.3 1426.4,550.9 1428.4,551.5 1430.4,552.1 1432.4,552.7 1434.4,553.3 1436.4,553.9 1438.4,554.5 1440.4,555.1 1442.4,555.7 1444.4,556.3 1446.4,556.9 1448.4,557.5 1450.4,558.1 1452.4,558.7 1454.4,559.3 1456.4,559.9 1458.4,560.5 1460.4,561.1 1462.4,561.7 1464.4,562.3 1466.4,562.9 1468.4,563.5 1470.3,564.1 1472.3,564.7 1474.3,565.3 1476.3,565.9 1478.3,566.5 1480.3,567.1 1482.3,567.7 1484.3,568.3 1486.3,568.9 1488.3,569.5 1490.3,570.0 1492.3,570.6 1494.3,571.2 1496.3,571.8 1498.3,572.5 1500.3,573.1 1502.3,573.7 1504.3,574.4 1506.3,575.0 1508.3,575.7 1510.3,576.3 1512.3,577.0 1514.3,577.8 1516.3,578.5 1518.3,579.3 1520.3,580.1 1522.3,581.1 1524.3,582.1 1526.3,583.1 1528.3,584.2 1530.3,585.4 1532.3,586.5 1534.3,587.7 1536.3,588.9 1538.3,590.1 1540.3,591.2 1542.3,592.3 1544.3,593.3 1546.3,594.4 1548.3,595.5 1550.3,596.5 1552.3,597.6 1554.3,598.7 1556.3,599.9 1558.3,601.0 1560.3,602.2 1562.3,603.5 1564.3,604.9 1566.3,606.4 1568.3,607.8 1570.3,609.1 1572.3,610.3 1574.3,611.1 1576.3,611.8 1578.3,612.4 1580.3,613.0 1582.3,613.5 1584.3,614.0 1586.3,614.4 1588.3,614.7 1590.3,615.0 1592.3,615.3 1594.3,615.6 1596.3,615.9 1598.3,616.2 1600.3,616.4 1602.3,616.6 1604.3,616.8 1606.3,616.9 1608.3,617.0 1610.3,617.0 1612.3,617.0 1614.3,616.9 1616.3,616.9 1618.3,616.8 1620.3,616.7 1622.3,616.6 1624.3,616.5 1626.3,616.5 1628.3,616.4 1630.3,616.4 1632.3,616.4 1634.3,616.4 1636.3,616.4 1638.2,616.4 1640.2,616.4 1642.2,616.4 1644.2,616.4 1646.2,616.4 1648.2,616.4 1650.2,616.4 1652.2,616.4 1654.2,616.4 1656.2,616.4 1658.2,616.4 1660.2,616.4 1662.2,616.4 1664.2,616.5 1666.2,616.6 1668.2,616.7 1670.2,616.8 1672.2,617.0 1674.2,617.1 1676.2,617.3 1678.2,617.5 1680.2,617.6 1682.2,617.8 1684.2,617.9 1686.2,618.1 1688.2,618.3 1690.2,618.5 1692.2,618.7 1694.2,618.9 1696.2,619.1 1698.2,619.4 1700.2,619.6 1702.2,619.9 1704.2,620.2 1706.2,620.6 1708.2,621.0 1710.2,621.4 1712.2,621.8 1714.2,622.3 1716.2,622.7 1718.2,623.2 1720.2,623.6 1722.2,624.1 1724.2,624.6 1726.2,625.1 1728.2,625.6 1730.2,626.1 1732.2,626.7 1734.2,627.2 1736.2,627.8 1738.2,628.4 1740.2,629.1 1742.2,629.7 1744.2,630.5 1746.2,631.2 1748.2,632.0 1750.2,632.8 1752.2,633.7 1754.2,634.5 1756.2,635.4 1758.2,636.2 1760.2,637.1 1762.2,637.9 1764.2,638.8 1766.2,639.7 1768.2,640.6 1770.2,641.5 1772.2,642.4 1774.2,643.3 1776.2,644.2 1778.2,645.1 1780.2,646.1 1782.2,647.0 1784.2,648.0 1786.2,649.0 1788.2,650.0 1790.2,651.0 1792.2,652.0 1794.2,653.0 1796.2,654.0 1798.2,655.0 1800.2,656.1 1802.2,657.1 1804.2,658.2 1806.2,659.3 1808.1,660.5 1810.1,661.6 1812.1,662.7 1814.1,663.8 1816.1,664.9 1818.1,666.0 1820.1,667.1 1822.1,668.1 1824.1,669.1 1826.1,670.1 1828.1,671.1 1830.1,672.1 1832.1,673.1 1834.1,674.1 1836.1,675.1 1838.1,676.1 1840.1,677.1 1842.1,678.1 1844.1,679.0 1846.1,680.0 1848.1,681.0 1850.1,681.9 1852.1,682.9 1854.1,683.9 1856.1,684.9 1858.1,686.0 1860.1,687.1 1862.1,688.2 1864.1,689.3 1866.1,690.5 1868.1,691.7 1870.1,693.1 1872.1,694.5 1874.1,696.0 1876.1,697.7 1878.1,699.3 1880.1,701.1 1882.1,702.9 1884.1,704.9 1886.1,706.9 1888.1,709.0 1890.1,711.1 1892.1,713.2 1894.1,715.4 1896.1,717.6 1898.1,719.8 1900.1,722.1 1902.1,724.4 1904.1,726.8 1906.1,729.2 1908.1,731.6 1910.1,734.1 1912.1,736.7 1914.1,739.3 1916.1,742.0 1918.1,744.6 1920.1,747.1 1922.1,749.4 1924.1,751.6 1926.1,753.7 1928.1,755.9 1930.1,758.1 1932.1,760.5 1934.1,763.0 1936.1,765.5 1938.1,767.9 1940.1,770.1 1942.1,772.1 1944.1,774.2 1946.1,776.1 1948.1,777.7 1950.1,779.0 1952.1,780.1 1954.1,780.9 1956.1,781.7 1958.1,782.4 1960.1,783.0 1962.1,783.6 1964.1,784.2 1966.1,784.8 1968.1,785.2 1970.1,785.6 1972.1,785.9 1974.1,786.2 1976.0,786.5 1978.0,786.7 1980.0,786.9 1982.0,787.1 1984.0,787.3 1986.0,787.4 1988.0,787.5 1990.0,787.6 1992.0,787.6 1994.0,787.7 1996.0,787.7 1998.0,787.8 2000.0,787.8 2002.0,787.8 2004.0,787.9 2006.0,787.9 2008.0,787.9 2010.0,788.0 2012.0,788.0 2014.0,788.0 2016.0,788.0 2018.0,788.0 2020.0,788.0 2022.0,788.0 2024.0,788.0 2026.0,788.0 2028.0,788.0 2030.0,787.9 2032.0,787.9 2034.0,787.9 2036.0,787.8 2038.0,787.8 2040.0,787.7 2042.0,787.7 2044.0,787.6 2046.0,787.6 2048.0,787.5 2050.0,787.4 2052.0,787.3 2054.0,787.3 2056.0,787.2 2058.0,787.1 2060.0,787.0"/>
<polyline filter="url(#th_p2)" stroke="#0000ff" stroke-width="7" points="1216.5,523.4 1218.5,523.3 1220.5,523.2 1222.5,523.0 1224.5,522.9 1226.5,522.8 1228.5,522.7 1230.5,522.6 1232.5,522.4 1234.5,522.3 1236.5,522.2 1238.5,522.1 1240.5,522.0 1242.5,521.8 1244.5,521.7 1246.5,521.6 1248.5,521.4 1250.5,521.3 1252.5,521.2 1254.5,521.0 1256.5,520.9 1258.5,520.7 1260.5,520.6 1262.5,520.5 1264.5,520.3 1266.5,520.2 1268.5,520.1 1270.5,520.0 1272.5,519.9 1274.5,519.8 1276.5,519.7 1278.5,519.6 1280.5,519.6 1282.5,519.5 1284.5,519.5 1286.5,519.4 1288.5,519.4 1290.5,519.4 1292.5,519.3 1294.5,519.3 1296.5,519.2 1298.5,519.2 1300.5,519.2 1302.4,519.1 1304.4,519.1 1306.4,519.1 1308.4,519.1 1310.4,519.0 1312.4,519.0 1314.4,519.0 1316.4,519.0 1318.4,519.0 1320.4,519.0 1322.4,519.0 1324.4,519.0 1326.4,519.1 1328.4,519.1 1330.4,519.2 1332.4,519.3 1334.4,519.4 1336.4,519.4 1338.4,519.5 1340.4,519.6 1342.4,519.7 1344.4,519.9 1346.4,520.1 1348.4,520.3 1350.4,520.5 1352.4,520.7 1354.4,520.9 1356.4,521.2 1358.4,521.4 1360.4,521.6 1362.4,521.9 1364.4,522.2 1366.4,522.4 1368.4,522.7 1370.4,523.0 1372.4,523.3 1374.4,523.6 1376.4,523.9 1378.4,524.2 1380.4,524.5 1382.4,524.7 1384.4,525.0 1386.4,525.3 1388.4,525.6 1390.4,525.8 1392.4,526.1 1394.4,526.4 1396.4,526.6 1398.4,526.8 1400.4,527.0 1402.4,527.2 1404.4,527.5 1406.4,527.7 1408.4,527.9 1410.4,528.1 1412.4,528.3 1414.4,528.4 1416.4,528.5 1418.4,528.6 1420.4,528.6 1422.4,528.6 1424.4,528.5 1426.4,528.3 1428.4,528.1 1430.4,528.0 1432.4,527.7 1434.4,527.3 1436.4,526.9 1438.4,526.4 1440.4,525.9 1442.4,525.3 1444.4,524.6 1446.4,523.8 1448.4,522.8 1450.4,521.8 1452.4,520.5 1454.4,519.1 1456.4,517.4 1458.4,515.6 1460.4,513.7 1462.4,511.6 1464.4,509.4 1466.4,507.0 1468.4,504.4 1470.3,501.5 1472.3,498.1 1474.3,494.4 1476.3,490.2 1478.3,485.8 1480.3,481.2 1482.3,476.3 1484.3,471.0 1486.3,465.2 1488.3,458.9 1490.3,451.4 1492.3,443.2 1494.3,434.5 1496.3,425.6 1498.3,416.2 1500.3,406.3 1502.3,395.7 1504.3,384.7 1506.3,374.4 1508.3,364.3 1510.3,354.8 1512.3,346.8 1514.3,339.9 1516.3,334.0 1518.3,329.3 1520.3,325.5 1522.3,322.6 1524.3,321.0 1526.3,320.1 1528.3,320.3 1530.3,321.5 1532.3,323.3 1534.3,327.3 1536.3,333.0 1538.3,341.4 1540.3,351.6 1542.3,363.5 1544.3,375.8 1546.3,387.8 1548.3,399.8 1550.3,411.8 1552.3,424.0 1554.3,436.1 1556.3,447.7 1558.3,458.8 1560.3,469.5 1562.3,479.4 1564.3,488.5 1566.3,497.1 1568.3,505.2 1570.3,513.0 1572.3,520.3 1574.3,526.9 1576.3,532.7 1578.3,538.0 1580.3,542.6 1582.3,546.8 1584.3,550.6 1586.3,554.2 1588.3,557.4 1590.3,560.4 1592.3,563.2 1594.3,565.7 1596.3,568.1 1598.3,570.3 1600.3,572.3 1602.3,574.1 1604.3,575.8 1606.3,577.3 1608.3,578.8 1610.3,580.2 1612.3,581.5 1614.3,582.8 1616.3,584.1 1618.3,585.2 1620.3,586.1 1622.3,586.9 1624.3,587.7 1626.3,588.3 1628.3,589.0 1630.3,589.7 1632.3,590.4 1634.3,591.2 1636.3,591.9 1638.2,592.6 1640.2,593.1 1642.2,593.5 1644.2,593.8 1646.2,594.1 1648.2,594.4 1650.2,594.7 1652.2,595.0 1654.2,595.2 1656.2,595.5 1658.2,595.7 1660.2,596.0 1662.2,596.3 1664.2,596.6 1666.2,596.9 1668.2,597.2 1670.2,597.5 1672.2,597.8 1674.2,598.1 1676.2,598.4 1678.2,598.7 1680.2,599.0 1682.2,599.3 1684.2,599.6 1686.2,599.9 1688.2,600.2 1690.2,600.5 1692.2,600.8 1694.2,601.1 1696.2,601.4 1698.2,601.7 1700.2,602.0 1702.2,602.3 1704.2,602.6 1706.2,602.9 1708.2,603.2 1710.2,603.5 1712.2,603.8 1714.2,604.1 1716.2,604.4 1718.2,604.7 1720.2,605.0 1722.2,605.4 1724.2,605.7 1726.2,606.1 1728.2,606.5 1730.2,606.9 1732.2,607.3 1734.2,607.7 1736.2,608.2 1738.2,608.6 1740.2,609.0 1742.2,609.5 1744.2,610.0 1746.2,610.5 1748.2,611.0 1750.2,611.5 1752.2,612.0 1754.2,612.5 1756.2,613.0 1758.2,613.5 1760.2,614.0 1762.2,614.6 1764.2,615.1 1766.2,615.7 1768.2,616.3 1770.2,616.9 1772.2,617.5 1774.2,618.0 1776.2,618.4 1778.2,618.8 1780.2,619.0 1782.2,619.2 1784.2,619.4 1786.2,619.6 1788.2,619.8 1790.2,620.0 1792.2,620.1 1794.2,620.2 1796.2,620.3 1798.2,620.4 1800.2,620.4 1802.2,620.4 1804.2,620.3 1806.2,620.1 1808.1,619.9 1810.1,619.6 1812.1,619.3 1814.1,619.0 1816.1,618.5 1818.1,617.7 1820.1,616.6 1822.1,615.5 1824.1,614.2 1826.1,612.9 1828.1,611.5 1830.1,609.9 1832.1,608.1 1834.1,606.0 1836.1,603.8 1838.1,601.3 1840.1,598.4 1842.1,595.2 1844.1,591.8 1846.1,588.2 1848.1,584.2 1850.1,579.7 1852.1,574.2 1854.1,568.0 1856.1,561.6 1858.1,555.4 1860.1,548.8 1862.1,541.5 1864.1,533.0 1866.1,523.5 1868.1,513.4 1870.1,504.0 1872.1,491.0 1874.1,470.7 1876.1,457.4 1878.1,445.8 1880.1,433.3 1882.1,419.1 1884.1,404.5 1886.1,389.2 1888.1,373.0 1890.1,356.0 1892.1,339.2 1894.1,322.3 1896.1,305.4 1898.1,289.3 1900.1,273.6 1902.1,258.7 1904.1,245.4 1906.1,233.9 1908.1,223.8 1910.1,215.4 1912.1,209.2 1914.1,211.6 1916.1,218.3 1918.1,229.6 1920.1,244.6 1922.1,261.8 1924.1,280.8 1926.1,300.4 1928.1,320.7 1930.1,340.8 1932.1,360.8 1934.1,380.7 1936.1,400.8 1938.1,420.8 1940.1,440.3 1942.1,459.0 1944.1,478.7 1946.1,500.7 1948.1,521.3 1950.1,540.6 1952.1,558.0 1954.1,574.5 1956.1,591.2 1958.1,606.4 1960.1,619.0 1962.1,630.3 1964.1,641.1 1966.1,651.2 1968.1,660.2 1970.1,668.2 1972.1,675.4 1974.1,682.1 1976.0,688.1 1978.0,693.7 1980.0,698.9 1982.0,703.7 1984.0,708.1 1986.0,712.2 1988.0,716.1 1990.0,719.7 1992.0,723.0 1994.0,726.1 1996.0,728.8 1998.0,731.4 2000.0,733.8 2002.0,736.0 2004.0,738.0 2006.0,740.0 2008.0,741.8 2010.0,743.5 2012.0,745.1 2014.0,746.6 2016.0,748.0 2018.0,749.4 2020.0,750.6 2022.0,751.9 2024.0,753.0 2026.0,754.1 2028.0,755.1 2030.0,756.0 2032.0,756.9 2034.0,757.7 2036.0,758.4 2038.0,759.2 2040.0,759.8 2042.0,760.4 2044.0,761.0 2046.0,761.5 2048.0,762.0 2050.0,762.5 2052.0,763.0 2054.0,763.4 2056.0,763.8 2058.0,764.1 2060.0,764.4"/>
<polyline filter="url(#th_p2)" stroke="#ff00ff" stroke-width="7" points="1216.5,517.3 1218.5,516.9 1220.5,516.5 1222.5,516.1 1224.5,515.7 1226.5,515.4 1228.5,515.0 1230.5,514.6 1232.5,514.3 1234.5,513.9 1236.5,513.6 1238.5,513.3 1240.5,512.9 1242.5,512.6 1244.5,512.3 1246.5,512.0 1248.5,511.7 1250.5,511.4 1252.5,511.2 1254.5,510.9 1256.5,510.6 1258.5,510.3 1260.5,509.9 1262.5,509.6 1264.5,509.2 1266.5,508.8 1268.5,508.5 1270.5,508.1 1272.5,507.7 1274.5,507.3 1276.5,506.8 1278.5,506.4 1280.5,505.9 1282.5,505.4 1284.5,504.9 1286.5,504.3 1288.5,503.8 1290.5,503.2 1292.5,502.5 1294.5,501.9 1296.5,501.2 1298.5,500.6 1300.5,499.8 1302.4,499.1 1304.4,498.3 1306.4,497.5 1308.4,496.6 1310.4,495.7 1312.4,494.8 1314.4,493.8 1316.4,492.8 1318.4,491.8 1320.4,490.8 1322.4,489.7 1324.4,488.5 1326.4,487.3 1328.4,486.0 1330.4,484.7 1332.4,483.4 1334.4,482.0 1336.4,480.6 1338.4,479.2 1340.4,477.7 1342.4,476.2 1344.4,474.6 1346.4,472.9 1348.4,471.3 1350.4,469.5 1352.4,467.8 1354.4,466.0 1356.4,464.2 1358.4,462.4 1360.4,460.6 1362.4,458.8 1364.4,457.0 1366.4,455.1 1368.4,453.2 1370.4,451.3 1372.4,449.4 1374.4,447.5 1376.4,445.6 1378.4,443.7 1380.4,441.8 1382.4,439.8 1384.4,438.0 1386.4,436.2 1388.4,434.7 1390.4,433.2 1392.4,431.8 1394.4,430.6 1396.4,429.9 1398.4,429.4 1400.4,429.1 1402.4,429.0 1404.4,429.4 1406.4,430.2 1408.4,431.2 1410.4,432.5 1412.4,434.3 1414.4,436.3 1416.4,438.4 1418.4,440.5 1420.4,442.8 1422.4,445.3 1424.4,447.9 1426.4,450.5 1428.4,453.3 1430.4,456.3 1432.4,459.4 1434.4,462.5 1436.4,465.6 1438.4,468.6 1440.4,471.6 1442.4,474.5 1444.4,477.5 1446.4,480.5 1448.4,483.6 1450.4,486.7 1452.4,489.7 1454.4,492.7 1456.4,495.5 1458.4,498.2 1460.4,500.8 1462.4,503.4 1464.4,505.9 1466.4,508.4 1468.4,510.9 1470.3,513.3 1472.3,515.7 1474.3,518.1 1476.3,520.4 1478.3,522.7 1480.3,524.9 1482.3,527.1 1484.3,529.3 1486.3,531.3 1488.3,533.3 1490.3,535.3 1492.3,537.1 1494.3,539.0 1496.3,540.8 1498.3,542.6 1500.3,544.3 1502.3,546.0 1504.3,547.7 1506.3,549.3 1508.3,550.9 1510.3,552.6 1512.3,554.1 1514.3,555.7 1516.3,557.2 1518.3,558.7 1520.3,560.2 1522.3,561.7 1524.3,563.2 1526.3,564.6 1528.3,566.1 1530.3,567.5 1532.3,568.9 1534.3,570.2 1536.3,571.6 1538.3,572.9 1540.3,574.2 1542.3,575.5 1544.3,576.8 1546.3,578.1 1548.3,579.4 1550.3,580.6 1552.3,581.8 1554.3,583.0 1556.3,584.1 1558.3,585.2 1560.3,586.1 1562.3,587.1 1564.3,588.0 1566.3,588.9 1568.3,589.8 1570.3,590.7 1572.3,591.5 1574.3,592.2 1576.3,592.9 1578.3,593.5 1580.3,594.1 1582.3,594.6 1584.3,595.0 1586.3,595.5 1588.3,595.8 1590.3,596.0 1592.3,596.2 1594.3,596.4 1596.3,596.5 1598.3,596.6 1600.3,596.6 1602.3,596.6 1604.3,596.5 1606.3,596.4 1608.3,596.3 1610.3,596.1 1612.3,595.9 1614.3,595.7 1616.3,595.5 1618.3,595.2 1620.3,595.0 1622.3,594.6 1624.3,594.1 1626.3,593.5 1628.3,592.9 1630.3,592.3 1632.3,591.9 1634.3,591.4 1636.3,590.9 1638.2,590.4 1640.2,589.9 1642.2,589.4 1644.2,588.9 1646.2,588.3 1648.2,587.8 1650.2,587.2 1652.2,586.6 1654.2,585.9 1656.2,585.3 1658.2,584.6 1660.2,583.9 1662.2,583.2 1664.2,582.4 1666.2,581.6 1668.2,580.8 1670.2,579.9 1672.2,579.0 1674.2,578.0 1676.2,577.0 1678.2,576.0 1680.2,574.9 1682.2,573.7 1684.2,572.4 1686.2,571.0 1688.2,569.6 1690.2,568.1 1692.2,566.5 1694.2,564.9 1696.2,563.2 1698.2,561.5 1700.2,559.8 1702.2,558.0 1704.2,556.1 1706.2,554.0 1708.2,551.9 1710.2,549.8 1712.2,547.6 1714.2,545.3 1716.2,542.9 1718.2,540.4 1720.2,537.7 1722.2,534.8 1724.2,531.7 1726.2,528.4 1728.2,525.1 1730.2,521.7 1732.2,518.2 1734.2,514.7 1736.2,511.2 1738.2,507.5 1740.2,503.6 1742.2,499.6 1744.2,495.4 1746.2,491.2 1748.2,486.9 1750.2,482.6 1752.2,478.4 1754.2,474.1 1756.2,469.8 1758.2,465.6 1760.2,461.7 1762.2,457.8 1764.2,454.1 1766.2,450.5 1768.2,447.0 1770.2,443.7 1772.2,440.3 1774.2,436.9 1776.2,434.0 1778.2,431.9 1780.2,430.2 1782.2,428.8 1784.2,427.7 1786.2,427.1 1788.2,427.1 1790.2,427.8 1792.2,429.0 1794.2,430.5 1796.2,432.1 1798.2,434.6 1800.2,438.2 1802.2,442.2 1804.2,446.3 1806.2,450.4 1808.1,454.9 1810.1,459.5 1812.1,464.4 1814.1,468.8 1816.1,473.6 1818.1,480.7 1820.1,494.7 1822.1,503.0 1824.1,509.6 1826.1,515.2 1828.1,520.6 1830.1,526.4 1832.1,532.6 1834.1,538.6 1836.1,544.6 1838.1,550.5 1840.1,556.4 1842.1,562.2 1844.1,567.9 1846.1,573.6 1848.1,579.0 1850.1,584.3 1852.1,589.4 1854.1,594.3 1856.1,599.0 1858.1,603.7 1860.1,608.3 1862.1,612.9 1864.1,617.4 1866.1,621.9 1868.1,626.2 1870.1,630.2 1872.1,634.0 1874.1,637.7 1876.1,641.2 1878.1,644.6 1880.1,648.2 1882.1,651.8 1884.1,655.4 1886.1,659.0 1888.1,662.6 1890.1,666.2 1892.1,669.8 1894.1,673.4 1896.1,677.0 1898.1,680.6 1900.1,684.2 1902.1,687.8 1904.1,691.4 1906.1,695.0 1908.1,698.6 1910.1,702.2 1912.1,705.8 1914.1,709.5 1916.1,713.1 1918.1,716.7 1920.1,720.1 1922.1,723.5 1924.1,726.8 1926.1,730.1 1928.1,733.2 1930.1,736.1 1932.1,738.9 1934.1,741.7 1936.1,744.3 1938.1,746.7 1940.1,749.1 1942.1,751.3 1944.1,753.4 1946.1,755.4 1948.1,757.3 1950.1,759.1 1952.1,760.7 1954.1,762.2 1956.1,763.6 1958.1,764.9 1960.1,766.0 1962.1,767.0 1964.1,767.8 1966.1,768.6 1968.1,769.3 1970.1,770.0 1972.1,770.7 1974.1,771.3 1976.0,771.9 1978.0,772.5 1980.0,773.0 1982.0,773.5 1984.0,774.0 1986.0,774.5 1988.0,774.9 1990.0,775.3 1992.0,775.7 1994.0,776.1 1996.0,776.5 1998.0,776.8 2000.0,777.0 2002.0,777.2 2004.0,777.4 2006.0,777.6 2008.0,777.8 2010.0,778.0 2012.0,778.2 2014.0,778.3 2016.0,778.4 2018.0,778.5 2020.0,778.6 2022.0,778.7 2024.0,778.7 2026.0,778.8 2028.0,778.9 2030.0,778.9 2032.0,779.0 2034.0,779.0 2036.0,779.1 2038.0,779.1 2040.0,779.2 2042.0,779.2 2044.0,779.3 2046.0,779.3 2048.0,779.3 2050.0,779.3 2052.0,779.4 2054.0,779.4 2056.0,779.4 2058.0,779.4 2060.0,779.4"/>
</g>
<g fill="none" stroke-linejoin="round" stroke-linecap="round" clip-path="url(#c_p3)">
<polyline filter="url(#th_p3)" stroke="#ff0000" stroke-width="7" points="275.5,1261.5 277.6,1259.3 279.7,1262.7 281.8,1261.5 283.9,1257.6 286.0,1264.5 288.1,1261.7 290.2,1263.6 292.3,1266.8 294.4,1262.7 296.5,1259.2 298.6,1260.2 300.7,1264.6 302.8,1258.2 304.9,1262.7 307.0,1262.9 309.1,1258.2 311.2,1260.4 313.3,1259.7 315.4,1254.4 317.5,1253.2 319.6,1254.1 321.8,1247.8 323.9,1247.8 326.0,1251.8 328.1,1249.0 330.2,1244.7 332.3,1248.0 334.4,1252.6 336.5,1243.1 338.6,1248.6 340.7,1247.7 342.8,1244.3 344.9,1245.1 347.0,1240.4 349.1,1244.7 351.2,1243.5 353.3,1234.8 355.4,1234.3 357.5,1233.0 359.6,1228.8 361.7,1229.4 363.8,1224.1 365.9,1226.4 368.0,1221.2 370.1,1213.8 372.2,1209.1 374.3,1209.7 376.4,1204.6 378.5,1209.0 380.6,1208.8 382.7,1202.2 384.8,1197.2 386.9,1190.1 389.0,1190.1 391.1,1191.7 393.2,1185.9 395.3,1185.1 397.4,1178.2 399.5,1179.2 401.6,1169.6 403.7,1167.8 405.8,1171.9 407.9,1164.3 410.0,1168.4 412.2,1161.8 414.3,1162.3 416.4,1162.0 418.5,1156.0 420.6,1150.2 422.7,1148.9 424.8,1149.9 426.9,1144.2 429.0,1142.3 431.1,1137.4 433.2,1135.5 435.3,1132.1 437.4,1128.3 439.5,1131.5 441.6,1130.6 443.7,1125.5 445.8,1131.3 447.9,1134.3 450.0,1137.0 452.1,1128.0 454.2,1130.8 456.3,1130.7 458.4,1130.3 460.5,1126.3 462.6,1130.8 464.7,1130.7 466.8,1133.5 468.9,1132.0 471.0,1130.6 473.1,1128.9 475.2,1135.8 477.3,1141.7 479.4,1152.2 481.5,1162.0 483.6,1156.4 485.7,1150.7 487.8,1149.4 489.9,1149.6 492.0,1149.5 494.1,1158.5 496.2,1168.7 498.3,1171.9 500.4,1168.5 502.6,1170.6 504.7,1171.0 506.8,1177.5 508.9,1181.0 511.0,1178.8 513.1,1176.7 515.2,1178.3 517.3,1175.3 519.4,1178.5 521.5,1179.8 523.6,1185.5 525.7,1180.4 527.8,1180.0 529.9,1177.0 532.0,1178.6 534.1,1173.8 536.2,1170.9 538.3,1163.6 540.4,1161.1 542.5,1162.4 544.6,1160.2 546.7,1150.1 548.8,1150.7 550.9,1146.1 553.0,1148.6 555.1,1133.3 557.2,1129.9 559.3,1124.8 561.4,1123.1 563.5,1115.8 565.6,1108.6 567.7,1110.7 569.8,1110.2 571.9,1101.8 574.0,1102.9 576.1,1099.7 578.2,1097.4 580.3,1096.5 582.4,1095.2 584.5,1090.4 586.6,1092.1 588.7,1094.2 590.8,1092.1 593.0,1097.4 595.1,1101.4 597.2,1109.7 599.3,1114.4 601.4,1124.1 603.5,1129.3 605.6,1136.3 607.7,1149.9 609.8,1156.1 611.9,1172.0 614.0,1183.7 616.1,1184.6 618.2,1195.8 620.3,1212.5 622.4,1222.0 624.5,1228.5 626.6,1243.7 628.7,1260.1 630.8,1270.2 632.9,1278.3 635.0,1290.6 637.1,1299.0 639.2,1302.5 641.3,1316.9 643.4,1321.6 645.5,1336.8 647.6,1341.2 649.7,1342.1 651.8,1343.8 653.9,1345.5 656.0,1345.6 658.1,1354.7 660.2,1359.7 662.3,1360.0 664.4,1358.7 666.5,1358.2 668.6,1355.4 670.7,1356.1 672.8,1353.9 674.9,1358.8 677.0,1355.0 679.1,1359.4 681.2,1355.3 683.4,1360.5 685.5,1360.6 687.6,1360.1 689.7,1358.1 691.8,1352.6 693.9,1350.5 696.0,1347.7 698.1,1349.8 700.2,1353.5 702.3,1346.5 704.4,1356.0 706.5,1348.4 708.6,1346.9 710.7,1350.7 712.8,1352.4 714.9,1348.3 717.0,1345.7 719.1,1349.7 721.2,1337.9 723.3,1339.4 725.4,1335.0 727.5,1332.0 729.6,1331.6 731.7,1327.3 733.8,1326.2 735.9,1329.0 738.0,1324.5 740.1,1323.9 742.2,1327.4 744.3,1325.1 746.4,1319.6 748.5,1315.4 750.6,1308.5 752.7,1305.2 754.8,1298.6 756.9,1288.6 759.0,1291.3 761.1,1286.4 763.2,1284.1 765.3,1274.5 767.4,1277.0 769.5,1269.0 771.7,1263.4 773.8,1261.7 775.9,1260.1 778.0,1253.0 780.1,1250.1 782.2,1243.5 784.3,1244.9 786.4,1242.5 788.5,1233.0 790.6,1231.7 792.7,1223.4 794.8,1224.5 796.9,1217.3 799.0,1219.5 801.1,1215.4 803.2,1208.8 805.3,1207.9 807.4,1199.1 809.5,1196.9 811.6,1190.2 813.7,1190.8 815.8,1185.0 817.9,1187.9 820.0,1184.2 822.1,1184.0 824.2,1179.0 826.3,1176.8 828.4,1179.8 830.5,1185.2 832.6,1177.6 834.7,1184.4 836.8,1186.8 838.9,1184.7 841.0,1188.4 843.1,1194.5 845.2,1192.4 847.3,1194.0 849.4,1195.6 851.5,1199.6 853.6,1202.1 855.7,1208.9 857.8,1208.4 859.9,1212.2 862.1,1210.7 864.2,1221.0 866.3,1227.7 868.4,1226.9 870.5,1224.3 872.6,1222.4 874.7,1234.1 876.8,1240.4 878.9,1235.8 881.0,1241.3 883.1,1242.1 885.2,1248.8 887.3,1253.5 889.4,1247.6 891.5,1236.5 893.6,1236.9 895.7,1232.6 897.8,1225.4 899.9,1217.7 902.0,1221.3 904.1,1213.0 906.2,1202.7 908.3,1191.6 910.4,1176.7 912.5,1171.5 914.6,1157.1 916.7,1150.4 918.8,1133.9 920.9,1123.7 923.0,1110.8 925.1,1102.5 927.2,1088.9 929.3,1078.3 931.4,1062.8 933.5,1043.6 935.6,1027.5 937.7,1024.6 939.8,1012.5 941.9,1000.9 944.0,993.6 946.1,990.6 948.2,978.5 950.3,975.3 952.5,968.3 954.6,972.8 956.7,973.2 958.8,972.5 960.9,974.1 963.0,971.4 965.1,974.7 967.2,990.9 969.3,1009.7 971.4,1020.9 973.5,1038.6 975.6,1055.0 977.7,1075.7 979.8,1086.3 981.9,1110.5 984.0,1127.2 986.1,1150.0 988.2,1173.8 990.3,1195.4 992.4,1213.3 994.5,1230.6 996.6,1334.5 998.7,1353.4 1000.8,1366.0 1002.9,1387.4 1005.0,1404.8 1007.1,1426.4 1009.2,1438.4 1011.3,1448.4 1013.4,1456.6 1015.5,1463.2 1017.6,1474.7 1019.7,1479.5 1021.8,1478.0 1023.9,1487.5 1026.0,1493.0 1028.1,1492.5 1030.2,1492.6 1032.3,1493.6 1034.4,1496.6 1036.5,1494.6 1038.6,1505.4 1040.7,1512.7 1042.9,1513.6 1045.0,1515.1 1047.1,1513.2 1049.2,1518.0 1051.3,1515.8 1053.4,1518.8 1055.5,1514.9 1057.6,1526.1 1059.7,1528.5 1061.8,1530.7 1063.9,1533.5 1066.0,1530.9 1068.1,1529.8 1070.2,1530.9 1072.3,1535.7 1074.4,1538.0 1076.5,1538.1 1078.6,1535.4 1080.7,1536.5 1082.8,1539.6 1084.9,1540.1 1087.0,1536.4"/>
<path filter="url(#th_p3)" stroke="#000" stroke-width="10" d="M274.0 1243.4 L276.1 1243.3 L278.2 1243.1 L280.3 1242.9 L282.4 1242.6 L284.5 1242.4 L286.5 1242.1 L288.6 1241.8 L290.7 1241.4 L292.8 1241.1 L294.8 1240.7 L296.9 1240.3 L299.0 1240.0 L301.1 1239.6 M337.8 1228.0 L339.8 1227.3 L341.8 1226.7 L343.8 1226.0 L345.8 1225.3 L347.8 1224.6 L349.8 1223.9 L351.8 1223.2 L353.8 1222.4 L355.7 1221.7 L357.7 1220.9 L359.6 1220.1 L361.5 1219.2 L363.5 1218.3 L365.3 1217.4 M401.4 1187.2 L403.0 1185.8 L404.5 1184.5 L406.1 1183.2 L407.6 1181.8 L409.2 1180.4 L410.7 1179.1 L412.3 1177.7 L413.9 1176.4 L415.5 1175.1 L417.1 1173.9 L418.8 1172.7 L420.5 1171.6 L422.3 1170.5 L424.1 1169.6 L426.0 1168.9 L428.0 1168.3 M464.5 1180.7 L466.1 1182.0 L467.7 1183.4 L469.3 1184.8 L470.9 1186.2 L472.4 1187.6 L473.9 1189.1 L475.5 1190.5 L477.0 1192.0 L478.6 1193.4 L480.2 1194.8 L481.8 1196.1 L483.5 1197.3 L485.3 1198.5 L487.1 1199.5 L489.1 1200.3 M522.8 1184.6 L524.1 1183.0 L525.5 1181.4 L526.8 1179.8 L528.1 1178.2 L529.3 1176.5 L530.5 1174.8 L531.6 1173.0 L532.6 1171.2 L533.6 1169.4 L534.5 1167.6 L535.4 1165.7 L536.2 1163.7 L537.0 1161.8 M544.9 1119.1 L545.7 1117.2 L546.4 1115.2 L547.3 1113.2 L548.2 1111.3 L549.2 1109.5 L550.2 1107.6 L551.3 1105.8 L552.5 1104.0 L553.6 1102.2 L554.7 1100.4 L555.7 1098.6 L556.7 1096.7 M574.8 1071.0 L576.3 1072.5 L577.6 1074.1 L578.8 1075.9 L579.8 1077.7 L580.8 1079.6 L581.7 1081.5 L582.5 1083.4 L583.4 1085.3 L584.1 1087.3 L584.9 1089.2 L585.6 1091.2 L586.3 1093.2 L587.0 1095.2 M594.7 1137.9 L595.2 1140.0 L595.8 1142.0 L596.4 1144.0 L597.0 1146.0 L597.7 1148.0 L598.3 1150.0 L599.0 1152.0 L599.6 1154.0 L600.2 1156.0 L600.8 1158.0 L601.3 1160.1 M608.7 1202.9 L609.3 1205.0 L609.9 1207.0 L610.6 1209.0 L611.3 1211.0 L612.0 1213.0 L612.8 1215.0 L613.5 1217.0 L614.2 1219.0 L614.9 1221.0 L615.6 1223.1 L616.2 1225.1 M625.2 1266.7 L626.1 1268.6 L627.1 1270.5 L628.2 1272.3 L629.3 1274.0 L630.5 1275.7 L631.8 1277.4 L633.1 1279.0 L634.5 1280.6 L635.9 1282.1 L637.4 1283.6 L638.9 1285.0 L640.4 1286.5 L641.8 1288.1 L643.2 1289.6 M679.0 1312.6 L681.0 1313.0 L683.0 1313.4 L685.0 1313.8 L687.0 1314.0 L689.1 1314.0 L691.1 1313.9 L693.1 1313.7 L695.2 1313.4 L697.2 1313.0 L699.2 1312.6 L701.1 1312.2 L703.1 1311.7 L705.1 1311.2 M742.2 1287.9 L743.6 1286.4 L744.9 1284.9 L746.2 1283.3 L747.5 1281.7 L748.8 1280.1 L750.1 1278.5 L751.4 1276.9 L752.8 1275.4 L754.1 1273.8 L755.5 1272.3 L756.7 1270.7 L758.0 1269.0 L759.2 1267.4 L760.5 1265.8 L761.9 1264.3 L763.4 1262.9 L765.3 1262.1 L767.0 1262.8 M755.9 1271.7 L757.3 1269.9 L758.7 1268.1 L760.1 1266.3 L761.6 1264.6 L763.3 1263.1 M789.3 1223.3 L790.2 1221.4 L791.1 1219.5 L792.0 1217.6 L792.9 1215.7 L793.8 1213.8 L794.7 1211.9 L795.6 1210.0 L796.6 1208.1 L797.5 1206.2 L798.5 1204.3 L799.5 1202.4 L800.5 1200.6 M837.3 1181.9 L838.6 1183.5 L839.9 1185.1 L841.0 1186.8 L842.2 1188.5 L843.2 1190.3 L844.3 1192.0 L845.3 1193.8 L846.3 1195.6 L847.3 1197.4 L848.3 1199.2 L849.3 1200.9 L850.3 1202.7 L851.4 1204.5 M880.6 1246.5 L882.5 1247.5 L884.5 1248.2 L886.6 1248.4 L888.7 1247.7 L890.4 1246.5 L892.0 1245.0 L893.4 1243.4 L894.7 1241.7 L896.0 1239.9 L897.2 1238.1 L898.3 1236.3 L899.4 1234.4 L900.5 1232.6 M914.8 1189.1 L915.4 1187.1 L916.0 1185.1 L916.6 1183.1 L917.2 1181.1 L917.7 1179.1 L918.2 1177.1 L918.7 1175.1 L919.2 1173.1 L919.7 1171.0 L920.1 1169.0 L920.5 1167.0 M925.5 1124.0 L925.9 1122.0 L926.3 1120.0 L926.7 1118.0 L927.2 1116.0 L927.7 1114.0 L928.3 1112.0 L928.8 1110.0 L929.3 1108.0 L929.7 1106.0 L930.1 1104.0 L930.5 1102.0 M935.5 1059.0 L935.9 1057.0 L936.3 1055.0 L936.7 1053.0 L937.1 1051.0 L937.6 1049.0 L938.1 1047.0 L938.6 1045.0 L939.0 1043.0 L939.5 1041.0 L940.0 1039.0 L940.4 1036.9 M947.9 994.1 L948.6 992.1 L949.3 990.1 L950.0 988.1 L950.8 986.1 L951.7 984.1 L952.6 982.2 L953.8 980.4 L955.5 979.1 L957.4 979.7 L958.7 981.4 L959.7 983.3 M968.0 1027.6 L968.3 1029.7 L968.7 1031.8 L969.0 1034.0 L969.3 1036.1 L969.6 1038.2 L970.0 1040.3 L970.3 1042.5 L970.6 1044.6 L970.9 1046.7 L971.1 1048.9 M975.4 1091.0 L975.6 1093.0 L975.9 1095.0 L976.2 1097.0 L976.5 1099.0 L976.8 1101.0 L977.1 1103.0 L977.4 1105.0 L977.7 1107.0 L978.0 1109.0 L978.3 1111.0 L978.6 1113.0 M983.3 1156.0 L983.5 1158.0 L983.8 1160.0 L984.0 1162.0 L984.2 1164.0 L984.4 1166.0 L984.7 1168.0 L984.9 1170.0 L985.1 1172.0 L985.3 1174.0 L985.5 1176.0 L985.7 1178.0 M989.3 1221.0 L989.5 1223.0 L989.7 1225.0 L989.9 1227.0 L990.1 1229.0 L990.3 1231.0 L990.5 1233.0 L990.7 1235.0 L990.9 1237.0 L991.1 1239.0 L991.4 1241.0 L991.6 1243.0 M999.5 1286.0 L999.8 1288.1 L1000.1 1290.2 L1000.5 1292.3 L1000.8 1294.4 L1001.1 1296.5 L1001.4 1298.6 L1001.7 1300.7 L1002.0 1302.8 L1002.3 1304.9 L1002.6 1307.0 M1008.5 1351.0 L1009.0 1353.1 L1009.4 1355.2 L1009.9 1357.3 L1010.4 1359.4 L1010.9 1361.5 L1011.4 1363.6 L1011.9 1365.7 L1012.4 1367.8 L1012.9 1370.0 L1013.4 1372.1 M1021.8 1414.9 L1022.4 1417.0 L1023.0 1419.0 L1023.7 1421.1 L1024.4 1423.1 L1025.1 1425.2 L1025.9 1427.2 L1026.6 1429.2 L1027.4 1431.2 L1028.2 1433.2 L1029.0 1435.2 L1029.9 1437.2 M1049.8 1479.4 L1051.1 1481.0 L1052.3 1482.6 L1053.6 1484.2 L1054.8 1485.7 L1056.1 1487.3 L1057.4 1488.8 L1058.8 1490.4 L1060.2 1491.9 L1061.6 1493.3 L1063.0 1494.7 L1064.5 1496.1 L1066.1 1497.4 L1067.7 1498.6 L1069.4 1499.7 L1071.2 1500.6 L1073.1 1501.4"/>
<polyline filter="url(#th_p3)" stroke="#00ff00" stroke-width="7" points="275.5,1258.0 277.5,1258.0 279.5,1258.0 281.5,1258.0 283.5,1258.0 285.5,1258.0 287.5,1258.0 289.5,1258.1 291.5,1258.1 293.5,1258.1 295.5,1258.1 297.5,1258.1 299.5,1258.1 301.5,1258.2 303.5,1258.2 305.5,1258.2 307.5,1258.2 309.5,1258.3 311.5,1258.3 313.5,1258.3 315.5,1258.3 317.5,1258.4 319.5,1258.4 321.5,1258.4 323.5,1258.5 325.5,1258.5 327.5,1258.5 329.5,1258.6 331.5,1258.7 333.5,1258.7 335.5,1258.8 337.5,1258.9 339.5,1258.9 341.5,1259.0 343.5,1259.1 345.5,1259.2 347.5,1259.3 349.5,1259.4 351.5,1259.5 353.5,1259.6 355.5,1259.7 357.4,1259.8 359.4,1260.0 361.4,1260.1 363.4,1260.3 365.4,1260.5 367.4,1260.7 369.4,1260.9 371.4,1261.2 373.4,1261.5 375.4,1261.7 377.4,1262.0 379.4,1262.3 381.4,1262.6 383.4,1262.9 385.4,1263.2 387.4,1263.6 389.4,1263.9 391.4,1264.3 393.4,1264.7 395.4,1265.1 397.4,1265.5 399.4,1265.9 401.4,1266.3 403.4,1266.7 405.4,1267.2 407.4,1267.7 409.4,1268.2 411.4,1268.7 413.4,1269.2 415.4,1269.8 417.4,1270.3 419.4,1270.8 421.4,1271.4 423.4,1272.0 425.4,1272.5 427.4,1273.1 429.4,1273.7 431.4,1274.3 433.4,1274.9 435.4,1275.6 437.4,1276.2 439.4,1276.8 441.4,1277.4 443.4,1278.1 445.4,1278.7 447.4,1279.4 449.4,1280.0 451.4,1280.7 453.4,1281.3 455.4,1282.0 457.4,1282.7 459.4,1283.4 461.4,1284.1 463.4,1284.8 465.4,1285.5 467.4,1286.3 469.4,1287.0 471.4,1287.8 473.4,1288.5 475.4,1289.3 477.4,1290.0 479.4,1290.8 481.4,1291.5 483.4,1292.2 485.4,1292.9 487.4,1293.6 489.4,1294.3 491.4,1295.0 493.4,1295.7 495.4,1296.4 497.4,1297.1 499.4,1297.8 501.4,1298.5 503.4,1299.2 505.4,1299.9 507.4,1300.6 509.4,1301.3 511.4,1302.0 513.4,1302.7 515.4,1303.4 517.4,1304.1 519.3,1304.8 521.3,1305.5 523.3,1306.2 525.3,1306.8 527.3,1307.5 529.3,1308.2 531.3,1308.8 533.3,1309.5 535.3,1310.2 537.3,1311.0 539.3,1311.7 541.3,1312.5 543.3,1313.3 545.3,1314.2 547.3,1315.1 549.3,1315.9 551.3,1316.9 553.3,1317.8 555.3,1318.7 557.3,1319.7 559.3,1320.7 561.3,1321.7 563.3,1322.7 565.3,1323.8 567.3,1324.9 569.3,1326.0 571.3,1327.1 573.3,1328.2 575.3,1329.4 577.3,1330.5 579.3,1331.6 581.3,1332.7 583.3,1333.8 585.3,1334.9 587.3,1336.1 589.3,1337.2 591.3,1338.3 593.3,1339.4 595.3,1340.5 597.3,1341.6 599.3,1342.6 601.3,1343.7 603.3,1344.8 605.3,1345.8 607.3,1346.9 609.3,1348.0 611.3,1349.0 613.3,1350.1 615.3,1351.0 617.3,1351.9 619.3,1352.7 621.3,1353.5 623.3,1354.2 625.3,1354.9 627.3,1355.6 629.3,1356.2 631.3,1356.9 633.3,1357.4 635.3,1358.0 637.3,1358.4 639.3,1358.9 641.3,1359.2 643.3,1359.6 645.3,1360.0 647.3,1360.3 649.3,1360.7 651.3,1361.0 653.3,1361.4 655.3,1361.7 657.3,1362.0 659.3,1362.3 661.3,1362.6 663.3,1362.8 665.3,1363.1 667.3,1363.3 669.3,1363.5 671.3,1363.7 673.3,1363.9 675.3,1364.0 677.3,1364.2 679.3,1364.3 681.2,1364.4 683.2,1364.4 685.2,1364.5 687.2,1364.5 689.2,1364.6 691.2,1364.6 693.2,1364.7 695.2,1364.7 697.2,1364.7 699.2,1364.7 701.2,1364.8 703.2,1364.8 705.2,1364.8 707.2,1364.9 709.2,1364.9 711.2,1365.0 713.2,1365.0 715.2,1365.1 717.2,1365.2 719.2,1365.3 721.2,1365.4 723.2,1365.5 725.2,1365.6 727.2,1365.8 729.2,1365.9 731.2,1366.0 733.2,1366.2 735.2,1366.4 737.2,1366.5 739.2,1366.7 741.2,1366.9 743.2,1367.1 745.2,1367.4 747.2,1367.6 749.2,1367.9 751.2,1368.3 753.2,1368.6 755.2,1369.0 757.2,1369.4 759.2,1369.9 761.2,1370.3 763.2,1370.8 765.2,1371.3 767.2,1371.8 769.2,1372.3 771.2,1372.8 773.2,1373.3 775.2,1373.9 777.2,1374.5 779.2,1375.2 781.2,1375.9 783.2,1376.6 785.2,1377.3 787.2,1378.1 789.2,1378.9 791.2,1379.7 793.2,1380.5 795.2,1381.3 797.2,1382.1 799.2,1383.0 801.2,1383.9 803.2,1384.8 805.2,1385.8 807.2,1386.7 809.2,1387.7 811.2,1388.6 813.2,1389.6 815.2,1390.5 817.2,1391.5 819.2,1392.5 821.2,1393.5 823.2,1394.5 825.2,1395.5 827.2,1396.5 829.2,1397.5 831.2,1398.6 833.2,1399.6 835.2,1400.7 837.2,1401.8 839.2,1402.9 841.2,1404.0 843.2,1405.1 845.1,1406.2 847.1,1407.3 849.1,1408.4 851.1,1409.5 853.1,1410.6 855.1,1411.8 857.1,1412.9 859.1,1414.0 861.1,1415.2 863.1,1416.3 865.1,1417.4 867.1,1418.5 869.1,1419.5 871.1,1420.6 873.1,1421.6 875.1,1422.5 877.1,1423.4 879.1,1424.3 881.1,1425.1 883.1,1426.0 885.1,1426.8 887.1,1427.7 889.1,1428.6 891.1,1429.6 893.1,1430.6 895.1,1431.5 897.1,1432.5 899.1,1433.6 901.1,1434.6 903.1,1435.7 905.1,1436.8 907.1,1437.9 909.1,1439.1 911.1,1440.4 913.1,1441.8 915.1,1443.3 917.1,1444.9 919.1,1446.6 921.1,1448.3 923.1,1449.9 925.1,1451.4 927.1,1453.0 929.1,1454.5 931.1,1456.2 933.1,1458.0 935.1,1459.8 937.1,1461.8 939.1,1463.8 941.1,1466.0 943.1,1468.3 945.1,1470.7 947.1,1473.3 949.1,1476.0 951.1,1478.8 953.1,1481.5 955.1,1484.2 957.1,1487.0 959.1,1489.9 961.1,1492.7 963.1,1495.5 965.1,1498.4 967.1,1501.2 969.1,1504.1 971.1,1506.8 973.1,1509.4 975.1,1511.9 977.1,1514.3 979.1,1516.6 981.1,1518.9 983.1,1521.2 985.1,1523.6 987.1,1525.9 989.1,1528.2 991.1,1530.2 993.1,1531.9 995.1,1533.5 997.1,1535.0 999.1,1536.3 1001.1,1537.5 1003.1,1538.5 1005.1,1539.5 1007.0,1540.3 1009.0,1541.1 1011.0,1541.7 1013.0,1542.3 1015.0,1542.8 1017.0,1543.2 1019.0,1543.6 1021.0,1544.0 1023.0,1544.4 1025.0,1544.7 1027.0,1545.0 1029.0,1545.3 1031.0,1545.5 1033.0,1545.7 1035.0,1545.9 1037.0,1546.1 1039.0,1546.3 1041.0,1546.5 1043.0,1546.6 1045.0,1546.8 1047.0,1546.9 1049.0,1547.0 1051.0,1547.0 1053.0,1547.0 1055.0,1547.0 1057.0,1547.0 1059.0,1547.0 1061.0,1547.0 1063.0,1547.0 1065.0,1547.0 1067.0,1547.0 1069.0,1546.9 1071.0,1546.9 1073.0,1546.9 1075.0,1546.8 1077.0,1546.8 1079.0,1546.7 1081.0,1546.7 1083.0,1546.6 1085.0,1546.5 1087.0,1546.4"/>
<polyline filter="url(#th_p3)" stroke="#0000ff" stroke-width="7" points="275.5,1253.4 277.5,1253.3 279.5,1253.2 281.5,1253.1 283.5,1252.9 285.5,1252.8 287.5,1252.7 289.5,1252.6 291.5,1252.5 293.5,1252.4 295.5,1252.3 297.5,1252.2 299.5,1252.1 301.5,1252.0 303.5,1251.9 305.5,1251.9 307.5,1251.8 309.5,1251.7 311.5,1251.7 313.5,1251.7 315.5,1251.6 317.5,1251.6 319.5,1251.6 321.5,1251.6 323.5,1251.6 325.5,1251.6 327.5,1251.6 329.5,1251.6 331.5,1251.6 333.5,1251.6 335.5,1251.6 337.5,1251.6 339.5,1251.6 341.5,1251.6 343.5,1251.6 345.5,1251.6 347.5,1251.6 349.5,1251.6 351.5,1251.6 353.5,1251.6 355.5,1251.6 357.4,1251.6 359.4,1251.6 361.4,1251.6 363.4,1251.6 365.4,1251.7 367.4,1251.7 369.4,1251.8 371.4,1251.9 373.4,1252.0 375.4,1252.1 377.4,1252.2 379.4,1252.3 381.4,1252.4 383.4,1252.5 385.4,1252.7 387.4,1252.8 389.4,1253.0 391.4,1253.1 393.4,1253.3 395.4,1253.5 397.4,1253.8 399.4,1254.0 401.4,1254.3 403.4,1254.6 405.4,1254.9 407.4,1255.2 409.4,1255.5 411.4,1255.8 413.4,1256.1 415.4,1256.5 417.4,1256.8 419.4,1257.1 421.4,1257.5 423.4,1257.8 425.4,1258.2 427.4,1258.6 429.4,1258.9 431.4,1259.2 433.4,1259.6 435.4,1260.0 437.4,1260.4 439.4,1260.8 441.4,1261.1 443.4,1261.5 445.4,1261.8 447.4,1262.1 449.4,1262.3 451.4,1262.5 453.4,1262.8 455.4,1263.0 457.4,1263.2 459.4,1263.3 461.4,1263.5 463.4,1263.6 465.4,1263.6 467.4,1263.6 469.4,1263.5 471.4,1263.4 473.4,1263.2 475.4,1263.0 477.4,1262.8 479.4,1262.5 481.4,1262.2 483.4,1261.6 485.4,1260.9 487.4,1260.1 489.4,1259.3 491.4,1258.4 493.4,1257.3 495.4,1256.1 497.4,1254.8 499.4,1253.5 501.4,1252.0 503.4,1250.4 505.4,1248.6 507.4,1246.8 509.4,1244.7 511.4,1242.5 513.4,1239.9 515.4,1237.2 517.4,1234.2 519.3,1231.1 521.3,1227.7 523.3,1224.1 525.3,1220.1 527.3,1215.9 529.3,1211.5 531.3,1206.8 533.3,1201.6 535.3,1195.9 537.3,1190.0 539.3,1183.6 541.3,1176.5 543.3,1168.4 545.3,1159.0 547.3,1149.2 549.3,1139.6 551.3,1129.8 553.3,1120.7 555.3,1112.9 557.3,1105.7 559.3,1099.7 561.3,1094.9 563.3,1090.8 565.3,1087.7 567.3,1085.8 569.3,1084.5 571.3,1084.0 573.3,1085.1 575.3,1087.2 577.3,1090.3 579.3,1095.8 581.3,1103.1 583.3,1112.7 585.3,1122.0 587.3,1131.2 589.3,1140.7 591.3,1150.4 593.3,1160.4 595.3,1170.5 597.3,1180.5 599.3,1190.6 601.3,1200.6 603.3,1210.3 605.3,1219.9 607.3,1229.0 609.3,1237.2 611.3,1244.7 613.3,1251.6 615.3,1258.2 617.3,1264.4 619.3,1270.1 621.3,1275.2 623.3,1280.0 625.3,1284.5 627.3,1288.7 629.3,1292.7 631.3,1296.3 633.3,1299.8 635.3,1303.0 637.3,1306.1 639.3,1309.0 641.3,1311.7 643.3,1314.4 645.3,1316.8 647.3,1319.2 649.3,1321.3 651.3,1323.2 653.3,1325.0 655.3,1326.6 657.3,1328.2 659.3,1329.5 661.3,1330.8 663.3,1332.0 665.3,1333.0 667.3,1334.0 669.3,1334.8 671.3,1335.3 673.3,1335.8 675.3,1336.1 677.3,1336.4 679.3,1336.8 681.2,1337.2 683.2,1337.8 685.2,1338.5 687.2,1339.4 689.2,1340.2 691.2,1340.8 693.2,1341.3 695.2,1341.6 697.2,1342.0 699.2,1342.3 701.2,1342.6 703.2,1342.8 705.2,1343.1 707.2,1343.3 709.2,1343.6 711.2,1343.9 713.2,1344.2 715.2,1344.5 717.2,1344.8 719.2,1345.1 721.2,1345.4 723.2,1345.7 725.2,1346.0 727.2,1346.3 729.2,1346.6 731.2,1346.9 733.2,1347.2 735.2,1347.5 737.2,1347.8 739.2,1348.1 741.2,1348.4 743.2,1348.7 745.2,1349.0 747.2,1349.3 749.2,1349.6 751.2,1349.9 753.2,1350.2 755.2,1350.5 757.2,1350.8 759.2,1351.0 761.2,1351.3 763.2,1351.6 765.2,1351.9 767.2,1352.2 769.2,1352.5 771.2,1352.9 773.2,1353.2 775.2,1353.6 777.2,1353.9 779.2,1354.3 781.2,1354.7 783.2,1355.1 785.2,1355.5 787.2,1356.0 789.2,1356.4 791.2,1356.8 793.2,1357.3 795.2,1357.7 797.2,1358.3 799.2,1358.8 801.2,1359.3 803.2,1359.8 805.2,1360.4 807.2,1360.9 809.2,1361.4 811.2,1361.8 813.2,1362.2 815.2,1362.7 817.2,1363.1 819.2,1363.6 821.2,1364.0 823.2,1364.4 825.2,1364.8 827.2,1365.1 829.2,1365.4 831.2,1365.6 833.2,1365.7 835.2,1365.7 837.2,1365.8 839.2,1365.9 841.2,1365.9 843.2,1366.0 845.1,1366.0 847.1,1366.0 849.1,1365.7 851.1,1365.2 853.1,1364.7 855.1,1364.0 857.1,1363.3 859.1,1362.6 861.1,1361.8 863.1,1360.8 865.1,1359.7 867.1,1358.5 869.1,1357.2 871.1,1355.7 873.1,1353.9 875.1,1352.0 877.1,1349.9 879.1,1347.8 881.1,1345.5 883.1,1343.0 885.1,1340.3 887.1,1337.4 889.1,1334.2 891.1,1330.5 893.1,1326.5 895.1,1322.1 897.1,1317.2 899.1,1311.7 901.1,1305.6 903.1,1299.0 905.1,1292.0 907.1,1284.3 909.1,1275.9 911.1,1267.1 913.1,1257.3 915.1,1243.3 917.1,1228.7 919.1,1217.1 921.1,1205.7 923.1,1192.5 925.1,1177.9 927.1,1162.8 929.1,1147.7 931.1,1132.4 933.1,1117.0 935.1,1101.4 937.1,1085.5 939.1,1070.3 941.1,1056.7 943.1,1043.9 945.1,1032.9 947.1,1024.9 949.1,1018.3 951.1,1013.2 953.1,1010.0 955.1,1007.6 957.1,1007.2 959.1,1009.6 961.1,1013.8 963.1,1022.2 965.1,1034.8 967.1,1048.6 969.1,1064.8 971.1,1082.2 973.1,1098.9 975.1,1115.5 977.1,1132.2 979.1,1148.9 981.1,1165.5 983.1,1182.2 985.1,1198.7 987.1,1214.8 989.1,1231.6 991.1,1250.4 993.1,1270.9 995.1,1291.5 997.1,1308.2 999.1,1321.9 1001.1,1334.7 1003.1,1346.9 1005.1,1358.6 1007.0,1369.9 1009.0,1381.1 1011.0,1391.5 1013.0,1400.6 1015.0,1408.9 1017.0,1416.5 1019.0,1423.8 1021.0,1430.7 1023.0,1437.1 1025.0,1442.9 1027.0,1448.3 1029.0,1453.2 1031.0,1457.9 1033.0,1462.2 1035.0,1466.4 1037.0,1470.3 1039.0,1474.0 1041.0,1477.5 1043.0,1480.6 1045.0,1483.4 1047.0,1486.0 1049.0,1488.5 1051.0,1490.9 1053.0,1493.1 1055.0,1495.3 1057.0,1497.3 1059.0,1499.3 1061.0,1501.1 1063.0,1502.9 1065.0,1504.7 1067.0,1506.4 1069.0,1507.9 1071.0,1509.4 1073.0,1510.6 1075.0,1511.8 1077.0,1512.8 1079.0,1513.8 1081.0,1514.6 1083.0,1515.3 1085.0,1515.9 1087.0,1516.4"/>
<polyline filter="url(#th_p3)" stroke="#ff00ff" stroke-width="7" points="275.5,1247.2 277.5,1246.9 279.5,1246.6 281.5,1246.2 283.5,1245.9 285.5,1245.6 287.5,1245.2 289.5,1244.9 291.5,1244.5 293.5,1244.2 295.5,1243.8 297.5,1243.5 299.5,1243.1 301.5,1242.7 303.5,1242.4 305.5,1242.0 307.5,1241.6 309.5,1241.2 311.5,1240.8 313.5,1240.4 315.5,1240.0 317.5,1239.6 319.5,1239.1 321.5,1238.7 323.5,1238.2 325.5,1237.8 327.5,1237.3 329.5,1236.8 331.5,1236.4 333.5,1235.8 335.5,1235.3 337.5,1234.8 339.5,1234.2 341.5,1233.5 343.5,1232.9 345.5,1232.2 347.5,1231.4 349.5,1230.6 351.5,1229.8 353.5,1228.9 355.5,1228.1 357.4,1227.2 359.4,1226.3 361.4,1225.3 363.4,1224.4 365.4,1223.3 367.4,1222.3 369.4,1221.2 371.4,1220.1 373.4,1219.0 375.4,1217.8 377.4,1216.6 379.4,1215.4 381.4,1214.1 383.4,1212.7 385.4,1211.3 387.4,1209.8 389.4,1208.2 391.4,1206.7 393.4,1205.1 395.4,1203.5 397.4,1202.0 399.4,1200.4 401.4,1198.9 403.4,1197.4 405.4,1195.9 407.4,1194.4 409.4,1192.9 411.4,1191.4 413.4,1189.9 415.4,1188.4 417.4,1186.9 419.4,1185.3 421.4,1183.7 423.4,1182.3 425.4,1181.2 427.4,1180.5 429.4,1179.8 431.4,1179.3 433.4,1179.0 435.4,1179.0 437.4,1179.1 439.4,1179.3 441.4,1179.5 443.4,1180.0 445.4,1181.2 447.4,1182.8 449.4,1184.5 451.4,1186.2 453.4,1188.0 455.4,1190.0 457.4,1192.1 459.4,1194.3 461.4,1196.6 463.4,1199.1 465.4,1201.7 467.4,1204.4 469.4,1207.2 471.4,1209.9 473.4,1212.7 475.4,1215.6 477.4,1218.5 479.4,1221.2 481.4,1223.7 483.4,1226.1 485.4,1228.5 487.4,1230.8 489.4,1233.2 491.4,1235.7 493.4,1238.3 495.4,1240.9 497.4,1243.5 499.4,1246.2 501.4,1248.8 503.4,1251.5 505.4,1254.2 507.4,1256.8 509.4,1259.3 511.4,1261.5 513.4,1263.6 515.4,1265.6 517.4,1267.6 519.3,1269.4 521.3,1271.2 523.3,1272.9 525.3,1274.6 527.3,1276.3 529.3,1277.9 531.3,1279.4 533.3,1281.0 535.3,1282.5 537.3,1284.0 539.3,1285.5 541.3,1287.0 543.3,1288.4 545.3,1289.9 547.3,1291.3 549.3,1292.7 551.3,1294.0 553.3,1295.4 555.3,1296.8 557.3,1298.1 559.3,1299.5 561.3,1300.9 563.3,1302.3 565.3,1303.7 567.3,1305.1 569.3,1306.5 571.3,1307.9 573.3,1309.3 575.3,1310.7 577.3,1312.1 579.3,1313.5 581.3,1314.9 583.3,1316.4 585.3,1317.8 587.3,1319.3 589.3,1320.7 591.3,1322.1 593.3,1323.6 595.3,1324.9 597.3,1326.3 599.3,1327.6 601.3,1328.8 603.3,1330.0 605.3,1331.3 607.3,1332.5 609.3,1333.7 611.3,1334.8 613.3,1335.9 615.3,1336.9 617.3,1337.9 619.3,1338.7 621.3,1339.5 623.3,1340.1 625.3,1340.8 627.3,1341.3 629.3,1341.8 631.3,1342.3 633.3,1342.8 635.3,1343.3 637.3,1343.7 639.3,1343.9 641.3,1344.1 643.3,1344.2 645.3,1344.3 647.3,1344.4 649.3,1344.4 651.3,1344.4 653.3,1344.3 655.3,1344.1 657.3,1343.9 659.3,1343.7 661.3,1343.5 663.3,1343.2 665.3,1342.9 667.3,1342.6 669.3,1342.2 671.3,1341.9 673.3,1341.4 675.3,1341.0 677.3,1340.6 679.3,1340.1 681.2,1339.6 683.2,1339.1 685.2,1338.4 687.2,1337.8 689.2,1337.0 691.2,1336.3 693.2,1335.5 695.2,1334.8 697.2,1334.1 699.2,1333.3 701.2,1332.6 703.2,1331.8 705.2,1331.0 707.2,1330.2 709.2,1329.3 711.2,1328.4 713.2,1327.4 715.2,1326.4 717.2,1325.3 719.2,1324.2 721.2,1323.1 723.2,1321.9 725.2,1320.6 727.2,1319.3 729.2,1318.0 731.2,1316.6 733.2,1315.1 735.2,1313.6 737.2,1312.0 739.2,1310.3 741.2,1308.5 743.2,1306.7 745.2,1304.8 747.2,1302.9 749.2,1300.9 751.2,1298.8 753.2,1296.7 755.2,1294.4 757.2,1292.1 759.2,1289.6 761.2,1287.0 763.2,1284.4 765.2,1281.7 767.2,1278.9 769.2,1276.0 771.2,1273.1 773.2,1270.4 775.2,1268.0 777.2,1265.6 779.2,1262.9 781.2,1259.6 783.2,1254.2 785.2,1250.3 787.2,1248.4 789.2,1247.0 791.2,1245.1 793.2,1241.5 795.2,1235.8 797.2,1231.9 799.2,1228.8 801.2,1226.1 803.2,1223.6 805.2,1221.3 807.2,1219.0 809.2,1216.6 811.2,1214.0 813.2,1211.7 815.2,1209.7 817.2,1208.1 819.2,1206.6 821.2,1205.4 823.2,1205.0 825.2,1205.4 827.2,1206.3 829.2,1207.5 831.2,1208.9 833.2,1211.0 835.2,1213.7 837.2,1216.7 839.2,1219.9 841.2,1223.5 843.2,1227.6 845.1,1232.1 847.1,1236.9 849.1,1242.5 851.1,1248.0 853.1,1252.3 855.1,1256.7 857.1,1262.1 859.1,1267.9 861.1,1273.6 863.1,1279.0 865.1,1284.3 867.1,1289.6 869.1,1294.7 871.1,1299.8 873.1,1304.8 875.1,1309.7 877.1,1314.6 879.1,1319.3 881.1,1324.0 883.1,1328.6 885.1,1333.0 887.1,1337.4 889.1,1341.7 891.1,1346.1 893.1,1350.5 895.1,1355.0 897.1,1359.5 899.1,1364.0 901.1,1368.2 903.1,1372.2 905.1,1375.9 907.1,1379.4 909.1,1382.9 911.1,1386.4 913.1,1390.0 915.1,1393.6 917.1,1397.2 919.1,1400.8 921.1,1404.4 923.1,1408.0 925.1,1411.6 927.1,1415.2 929.1,1418.8 931.1,1422.4 933.1,1426.0 935.1,1429.6 937.1,1433.2 939.1,1436.8 941.1,1440.4 943.1,1444.0 945.1,1447.6 947.1,1451.2 949.1,1454.8 951.1,1458.4 953.1,1462.0 955.1,1465.6 957.1,1469.3 959.1,1472.9 961.1,1476.4 963.1,1479.8 965.1,1483.2 967.1,1486.5 969.1,1489.7 971.1,1492.7 973.1,1495.4 975.1,1498.0 977.1,1500.4 979.1,1502.7 981.1,1505.0 983.1,1507.2 985.1,1509.3 987.1,1511.3 989.1,1513.3 991.1,1515.2 993.1,1516.9 995.1,1518.7 997.1,1520.4 999.1,1522.0 1001.1,1523.4 1003.1,1524.6 1005.1,1525.8 1007.0,1526.9 1009.0,1527.8 1011.0,1528.7 1013.0,1529.4 1015.0,1530.0 1017.0,1530.6 1019.0,1531.1 1021.0,1531.7 1023.0,1532.1 1025.0,1532.6 1027.0,1533.0 1029.0,1533.4 1031.0,1533.8 1033.0,1534.2 1035.0,1534.6 1037.0,1534.9 1039.0,1535.3 1041.0,1535.6 1043.0,1535.9 1045.0,1536.2 1047.0,1536.5 1049.0,1536.7 1051.0,1536.9 1053.0,1537.1 1055.0,1537.3 1057.0,1537.4 1059.0,1537.6 1061.0,1537.8 1063.0,1537.9 1065.0,1538.1 1067.0,1538.2 1069.0,1538.3 1071.0,1538.5 1073.0,1538.6 1075.0,1538.7 1077.0,1538.8 1079.0,1538.9 1081.0,1538.9 1083.0,1539.0 1085.0,1539.0 1087.0,1539.0"/>
</g>
<g fill="none" stroke-linejoin="round" stroke-linecap="round" clip-path="url(#c_p4)">
<polyline filter="url(#th_p4)" stroke="#ff0000" stroke-width="2" points="1263.0,1342.2 1265.1,1339.1 1267.2,1338.9 1269.3,1340.1 1271.4,1339.5 1273.5,1339.0 1275.6,1337.3 1277.7,1336.2 1279.8,1338.7 1281.9,1336.8 1284.0,1338.5 1286.1,1336.4 1288.2,1333.6 1290.3,1334.4 1292.4,1334.4 1294.5,1332.6 1296.6,1329.8 1298.7,1329.0 1300.8,1325.0 1302.9,1324.5 1305.0,1323.4 1307.1,1319.8 1309.2,1319.6 1311.3,1320.2 1313.3,1314.3 1315.4,1316.6 1317.5,1311.4 1319.6,1309.7 1321.7,1309.7 1323.8,1304.0 1325.9,1302.7 1328.0,1303.2 1330.1,1301.8 1332.2,1298.4 1334.3,1296.3 1336.4,1295.9 1338.5,1291.2 1340.6,1288.6 1342.7,1286.9 1344.8,1286.4 1346.9,1284.3 1349.0,1278.8 1351.1,1276.3 1353.2,1271.0 1355.3,1272.2 1357.4,1268.0 1359.5,1270.0 1361.6,1264.3 1363.7,1259.5 1365.8,1253.6 1367.9,1250.8 1370.0,1251.4 1372.1,1245.4 1374.2,1244.1 1376.3,1240.4 1378.4,1239.5 1380.5,1236.4 1382.6,1229.5 1384.7,1232.7 1386.8,1229.0 1388.9,1232.4 1391.0,1228.8 1393.1,1227.1 1395.2,1219.1 1397.3,1224.2 1399.4,1218.9 1401.5,1213.5 1403.6,1212.8 1405.7,1212.4 1407.8,1207.6 1409.9,1213.3 1411.9,1211.5 1414.0,1208.5 1416.1,1206.3 1418.2,1206.5 1420.3,1209.8 1422.4,1210.4 1424.5,1210.3 1426.6,1209.0 1428.7,1206.0 1430.8,1213.4 1432.9,1213.4 1435.0,1219.4 1437.1,1218.9 1439.2,1222.2 1441.3,1226.4 1443.4,1225.7 1445.5,1230.2 1447.6,1232.6 1449.7,1242.1 1451.8,1247.7 1453.9,1251.7 1456.0,1250.0 1458.1,1261.9 1460.2,1264.6 1462.3,1268.8 1464.4,1264.7 1466.5,1264.7 1468.6,1266.8 1470.7,1265.4 1472.8,1268.7 1474.9,1269.7 1477.0,1273.4 1479.1,1272.5 1481.2,1269.8 1483.3,1269.5 1485.4,1269.7 1487.5,1267.2 1489.6,1266.4 1491.7,1272.7 1493.8,1265.3 1495.9,1266.4 1498.0,1260.0 1500.1,1257.0 1502.2,1250.7 1504.3,1251.1 1506.4,1242.2 1508.4,1236.8 1510.5,1225.4 1512.6,1224.9 1514.7,1221.6 1516.8,1210.6 1518.9,1205.0 1521.0,1194.7 1523.1,1188.1 1525.2,1184.4 1527.3,1179.7 1529.4,1175.0 1531.5,1166.6 1533.6,1163.7 1535.7,1157.9 1537.8,1152.3 1539.9,1146.3 1542.0,1144.1 1544.1,1146.5 1546.2,1134.9 1548.3,1134.1 1550.4,1142.3 1552.5,1145.2 1554.6,1156.7 1556.7,1158.7 1558.8,1163.0 1560.9,1182.8 1563.0,1194.5 1565.1,1198.7 1567.2,1215.4 1569.3,1228.4 1571.4,1236.7 1573.5,1252.3 1575.6,1263.5 1577.7,1279.6 1579.8,1295.9 1581.9,1311.3 1584.0,1325.5 1586.1,1340.2 1588.2,1354.8 1590.3,1361.6 1592.4,1370.1 1594.5,1382.0 1596.6,1388.8 1598.7,1396.0 1600.8,1402.2 1602.9,1406.9 1605.0,1407.9 1607.0,1410.7 1609.1,1414.7 1611.2,1415.3 1613.3,1419.7 1615.4,1424.1 1617.5,1425.5 1619.6,1425.0 1621.7,1427.0 1623.8,1423.3 1625.9,1417.6 1628.0,1421.9 1630.1,1421.0 1632.2,1429.6 1634.3,1426.0 1636.4,1426.3 1638.5,1429.3 1640.6,1430.6 1642.7,1430.2 1644.8,1427.0 1646.9,1426.8 1649.0,1424.3 1651.1,1420.1 1653.2,1412.5 1655.3,1410.8 1657.4,1404.5 1659.5,1406.6 1661.6,1410.1 1663.7,1407.3 1665.8,1406.0 1667.9,1402.6 1670.0,1399.9 1672.1,1397.7 1674.2,1395.5 1676.3,1393.9 1678.4,1399.8 1680.5,1401.0 1682.6,1396.8 1684.7,1399.1 1686.8,1392.0 1688.9,1390.2 1691.0,1384.7 1693.1,1387.4 1695.2,1384.8 1697.3,1381.4 1699.4,1383.4 1701.5,1383.7 1703.6,1378.5 1705.6,1375.9 1707.7,1373.2 1709.8,1370.4 1711.9,1369.2 1714.0,1365.5 1716.1,1355.5 1718.2,1357.7 1720.3,1351.6 1722.4,1351.4 1724.5,1345.6 1726.6,1342.5 1728.7,1335.4 1730.8,1329.1 1732.9,1327.2 1735.0,1323.8 1737.1,1319.0 1739.2,1315.0 1741.3,1309.6 1743.4,1305.8 1745.5,1298.2 1747.6,1294.6 1749.7,1287.3 1751.8,1285.2 1753.9,1280.0 1756.0,1276.1 1758.1,1273.6 1760.2,1267.7 1762.3,1258.5 1764.4,1262.5 1766.5,1256.6 1768.6,1254.0 1770.7,1247.2 1772.8,1245.2 1774.9,1241.3 1777.0,1231.0 1779.1,1232.9 1781.2,1227.7 1783.3,1227.1 1785.4,1228.0 1787.5,1231.8 1789.6,1224.9 1791.7,1227.3 1793.8,1229.0 1795.9,1231.7 1798.0,1233.4 1800.1,1236.8 1802.2,1235.3 1804.2,1239.3 1806.3,1240.7 1808.4,1238.5 1810.5,1243.3 1812.6,1251.3 1814.7,1256.1 1816.8,1260.4 1818.9,1261.3 1821.0,1267.8 1823.1,1273.3 1825.2,1283.1 1827.3,1288.0 1829.4,1296.3 1831.5,1309.7 1833.6,1319.1 1835.7,1325.8 1837.8,1324.8 1839.9,1331.8 1842.0,1336.9 1844.1,1346.6 1846.2,1340.9 1848.3,1338.0 1850.4,1333.6 1852.5,1329.3 1854.6,1327.0 1856.7,1323.8 1858.8,1318.4 1860.9,1310.5 1863.0,1303.1 1865.1,1299.7 1867.2,1284.0 1869.3,1277.4 1871.4,1273.1 1873.5,1256.7 1875.6,1241.5 1877.7,1227.3 1879.8,1217.1 1881.9,1202.2 1884.0,1186.2 1886.1,1164.8 1888.2,1148.7 1890.3,1127.8 1892.4,1107.5 1894.5,1082.4 1896.6,1064.4 1898.7,1044.8 1900.7,1021.4 1902.8,1009.7 1904.9,997.2 1907.0,984.1 1909.1,972.6 1911.2,963.7 1913.3,951.3 1915.4,941.4 1917.5,940.2 1919.6,954.0 1921.7,964.1 1923.8,973.1 1925.9,989.4 1928.0,996.8 1930.1,1022.1 1932.2,1038.7 1934.3,1075.2 1936.4,1106.4 1938.5,1133.4 1940.6,1170.2 1942.7,1212.2 1944.8,1254.9 1946.9,1298.4 1949.0,1332.0 1951.1,1362.1 1953.2,1394.5 1955.3,1419.1 1957.4,1439.2 1959.5,1455.8 1961.6,1471.7 1963.7,1483.0 1965.8,1492.0 1967.9,1500.3 1970.0,1515.7 1972.1,1522.9 1974.2,1524.1 1976.3,1531.1 1978.4,1529.1 1980.5,1533.8 1982.6,1539.2 1984.7,1538.1 1986.8,1538.9 1988.9,1538.8 1991.0,1541.4 1993.1,1538.7 1995.2,1541.9 1997.3,1543.8 1999.3,1546.0 2001.4,1555.5 2003.5,1554.0 2005.6,1553.6 2007.7,1556.6 2009.8,1555.6 2011.9,1562.8 2014.0,1566.6 2016.1,1563.7 2018.2,1570.5 2020.3,1569.4 2022.4,1570.9 2024.5,1568.8 2026.6,1566.5 2028.7,1565.1 2030.8,1566.4 2032.9,1568.1 2035.0,1571.7 2037.1,1571.4 2039.2,1571.4 2041.3,1574.0 2043.4,1568.5 2045.5,1570.3 2047.6,1570.9"/>
<path filter="url(#th_p4)" stroke="#000" stroke-width="10" d="M1262.0 1328.8 L1264.0 1328.7 L1266.0 1328.5 L1268.0 1328.3 L1270.0 1328.1 L1272.1 1327.9 L1274.1 1327.6 L1276.1 1327.4 L1278.1 1327.1 L1280.1 1326.8 L1282.1 1326.5 L1284.1 1326.2 L1286.0 1325.8 L1288.0 1325.5 M1325.9 1315.1 L1327.9 1314.5 L1329.9 1313.9 L1331.9 1313.3 L1333.9 1312.8 L1335.9 1312.2 L1337.9 1311.5 L1339.8 1310.9 L1341.8 1310.2 L1343.8 1309.5 L1345.7 1308.8 L1347.7 1308.0 L1349.6 1307.2 L1351.5 1306.3 L1353.4 1305.4 M1386.1 1268.9 L1387.6 1267.4 L1389.1 1265.9 L1390.5 1264.5 L1392.0 1263.0 L1393.5 1261.5 L1395.0 1260.0 L1396.5 1258.6 L1398.0 1257.2 L1399.5 1255.7 L1401.1 1254.4 L1402.6 1253.0 L1404.3 1251.7 L1405.9 1250.5 L1407.7 1249.3 L1409.4 1248.2 L1411.3 1247.2 M1446.0 1265.2 L1447.4 1266.8 L1448.9 1268.3 L1450.4 1269.8 L1451.9 1271.3 L1453.4 1272.8 L1454.9 1274.3 L1456.5 1275.7 L1458.0 1277.1 L1459.6 1278.5 L1461.3 1279.9 L1462.9 1281.2 L1464.6 1282.5 L1466.3 1283.8 L1468.0 1285.0 L1469.7 1286.2 L1471.5 1287.4 M1505.9 1280.7 L1507.2 1279.1 L1508.5 1277.5 L1509.8 1275.9 L1511.0 1274.3 L1512.1 1272.6 L1513.2 1270.9 L1514.2 1269.1 L1515.2 1267.3 L1516.0 1265.4 L1516.9 1263.6 L1517.6 1261.7 L1518.4 1259.8 L1519.1 1257.8 M1525.6 1216.1 L1526.1 1214.1 L1526.6 1212.2 L1527.1 1210.2 L1527.7 1208.3 L1528.3 1206.4 L1529.0 1204.5 L1529.6 1202.6 L1530.2 1200.7 L1530.8 1198.8 L1531.4 1196.8 L1531.9 1194.9 L1532.4 1192.9 M1539.1 1149.8 L1539.5 1147.6 L1539.9 1145.5 L1540.3 1143.3 L1540.8 1141.2 L1541.2 1139.1 L1541.7 1136.9 L1542.2 1134.8 L1542.7 1132.7 L1543.3 1130.6 L1543.9 1128.5 M1561.3 1145.8 L1561.8 1147.8 L1562.3 1149.8 L1562.8 1151.9 L1563.2 1153.9 L1563.6 1155.9 L1564.1 1157.9 L1564.4 1160.0 L1564.8 1162.0 L1565.2 1164.0 L1565.5 1166.1 M1570.5 1210.0 L1571.0 1212.1 L1571.5 1214.2 L1572.0 1216.3 L1572.6 1218.4 L1573.3 1220.4 L1574.0 1222.5 L1574.6 1224.6 L1575.2 1226.7 L1575.7 1228.8 L1576.1 1230.9 L1576.5 1233.0 M1580.6 1274.9 L1581.1 1277.0 L1581.6 1279.0 L1582.1 1280.9 L1582.8 1282.9 L1583.5 1284.8 L1584.3 1286.8 L1585.1 1288.6 L1586.0 1290.5 L1586.9 1292.3 L1587.8 1294.2 L1588.5 1296.2 L1589.2 1298.1 M1598.2 1339.8 L1599.0 1341.7 L1600.0 1343.6 L1600.9 1345.4 L1602.0 1347.3 L1603.1 1349.1 L1604.2 1350.8 L1605.4 1352.5 L1606.7 1354.2 L1608.1 1355.8 L1609.4 1357.4 L1610.9 1359.0 L1612.3 1360.5 L1613.7 1362.1 L1615.1 1363.7 M1652.0 1380.0 L1654.0 1379.5 L1656.1 1379.1 L1658.2 1378.6 L1660.3 1378.1 L1662.3 1377.6 L1664.4 1377.2 L1666.5 1376.7 L1668.6 1376.3 L1670.7 1375.9 L1672.8 1375.6 L1674.9 1375.3 L1677.0 1375.1 M1652.0 1380.0 L1654.0 1379.6 L1655.9 1379.1 L1657.9 1378.7 L1659.9 1378.2 L1661.9 1377.7 L1663.9 1377.3 L1665.9 1376.8 L1667.9 1376.4 L1669.9 1376.0 L1671.9 1375.7 L1673.9 1375.4 L1676.0 1375.2 L1678.0 1375.0 M1713.1 1343.9 L1714.6 1342.5 L1716.1 1341.0 L1717.6 1339.6 L1719.1 1338.1 L1720.5 1336.6 L1721.9 1335.1 L1723.3 1333.6 L1724.7 1332.1 L1726.0 1330.5 L1727.4 1328.9 L1728.6 1327.3 L1729.9 1325.6 L1731.1 1324.0 L1732.3 1322.3 L1733.4 1320.5 M1751.2 1277.2 L1752.0 1275.4 L1752.8 1273.5 L1753.7 1271.7 L1754.5 1269.8 L1755.4 1267.9 L1756.2 1266.1 L1757.1 1264.2 L1757.9 1262.4 L1758.8 1260.5 L1759.7 1258.7 M1783.8 1216.0 L1785.8 1215.4 L1787.9 1215.1 L1789.9 1215.1 L1791.8 1216.0 L1793.3 1217.4 L1794.7 1219.0 L1795.9 1220.6 L1797.1 1222.4 L1798.2 1224.1 L1799.3 1225.9 L1800.4 1227.7 L1801.4 1229.4 M1821.2 1273.8 L1821.9 1275.6 L1822.7 1277.5 L1823.4 1279.4 L1824.1 1281.3 L1824.8 1283.2 L1825.6 1285.1 L1826.3 1286.9 L1827.1 1288.8 L1827.9 1290.7 L1828.7 1292.5 L1829.6 1294.4 M1859.5 1310.4 L1860.7 1308.7 L1862.0 1307.0 L1863.3 1305.3 L1864.6 1303.6 L1865.9 1301.9 L1867.1 1300.2 L1868.3 1298.4 L1869.3 1296.6 L1870.3 1294.7 L1871.2 1292.8 L1872.0 1290.9 L1872.8 1288.9 L1873.5 1286.9 L1874.1 1284.9 M1879.5 1243.0 L1879.9 1241.0 L1880.3 1239.0 L1880.8 1237.0 L1881.3 1235.0 L1881.8 1233.0 L1882.3 1231.0 L1882.7 1229.0 L1883.1 1227.0 L1883.5 1225.0 M1888.3 1179.0 L1888.6 1176.9 L1888.8 1174.8 L1889.1 1172.7 L1889.4 1170.6 L1889.6 1168.4 L1889.9 1166.3 L1890.2 1164.2 L1890.4 1162.1 L1890.7 1160.0 M1895.3 1114.0 L1895.6 1111.9 L1895.9 1109.8 L1896.1 1107.7 L1896.4 1105.6 L1896.7 1103.4 L1897.0 1101.3 L1897.2 1099.2 L1897.5 1097.1 L1897.7 1095.0 M1901.3 1049.0 L1901.5 1046.9 L1901.8 1044.8 L1902.0 1042.7 L1902.3 1040.6 L1902.6 1038.4 L1902.9 1036.3 L1903.1 1034.2 L1903.4 1032.1 L1903.7 1030.0 M1908.5 984.0 L1908.8 981.9 L1909.1 979.8 L1909.5 977.7 L1909.9 975.5 L1910.2 973.4 L1910.6 971.3 L1911.1 969.2 L1911.5 967.1 L1912.0 965.0 L1912.5 962.9 L1913.1 960.8 M1924.4 1001.0 L1924.6 1003.0 L1924.8 1005.0 L1925.0 1007.0 L1925.2 1009.1 L1925.4 1011.1 L1925.5 1013.1 L1925.7 1015.1 L1925.9 1017.1 L1926.1 1019.2 L1926.2 1021.2 M1929.8 1067.1 L1930.0 1069.1 L1930.2 1071.1 L1930.5 1073.1 L1930.7 1075.0 L1930.9 1077.0 L1931.1 1079.0 L1931.3 1081.0 L1931.6 1083.0 L1931.7 1085.0 M1934.7 1132.4 L1934.9 1134.5 L1935.1 1136.6 L1935.2 1138.7 L1935.4 1140.8 L1935.6 1142.9 L1935.7 1145.0 L1935.9 1147.1 L1936.1 1149.2 L1936.3 1151.3 M1939.8 1196.1 L1940.0 1198.1 L1940.2 1200.1 L1940.5 1202.0 L1940.7 1204.0 L1940.9 1206.0 L1941.1 1208.0 L1941.3 1210.0 L1941.6 1212.0 L1941.7 1214.0 M1944.8 1261.2 L1945.0 1263.4 L1945.2 1265.7 L1945.4 1267.9 L1945.7 1270.1 L1945.9 1272.3 L1946.2 1274.6 L1946.4 1276.8 L1946.7 1279.0 M1951.2 1322.0 L1951.4 1324.1 L1951.6 1326.3 L1951.7 1328.4 L1951.9 1330.6 L1952.0 1332.8 L1952.2 1334.9 L1952.3 1337.1 L1952.5 1339.2 L1952.6 1341.4 L1952.8 1343.5 L1953.0 1345.7 L1953.2 1347.8 M1959.8 1386.2 L1960.1 1388.3 L1960.3 1390.5 L1960.4 1392.6 L1960.6 1394.7 L1960.8 1396.8 L1961.0 1398.9 L1961.1 1401.1 L1961.3 1403.2 L1961.5 1405.3 L1961.7 1407.4 L1961.9 1409.5 L1962.1 1411.7 M1971.7 1451.9 L1972.1 1453.9 L1972.5 1456.0 L1973.0 1458.0 L1973.4 1460.0 L1973.8 1462.0 L1974.2 1464.1 L1974.7 1466.1 L1975.1 1468.1 L1975.5 1470.1 L1976.0 1472.1 L1976.5 1474.2 L1977.1 1476.1 M1999.0 1514.3 L2000.3 1515.8 L2001.6 1517.3 L2003.0 1518.8 L2004.3 1520.3 L2005.7 1521.8 L2007.1 1523.3 L2008.5 1524.7 L2009.9 1526.2 L2011.4 1527.6 L2012.9 1528.9 L2014.4 1530.3 L2015.9 1531.6 L2017.5 1532.8 L2019.2 1534.0 L2020.8 1535.2 L2022.6 1536.2 L2024.3 1537.2 L2026.2 1538.0"/>
<polyline filter="url(#th_p4)" stroke="#00ff00" stroke-width="2" points="1263.0,1342.4 1265.0,1342.4 1267.0,1342.5 1269.0,1342.5 1271.0,1342.6 1273.0,1342.6 1275.0,1342.7 1277.0,1342.7 1279.0,1342.8 1281.0,1342.9 1283.0,1342.9 1285.0,1343.0 1287.0,1343.1 1289.0,1343.1 1291.0,1343.2 1293.0,1343.3 1295.0,1343.4 1297.0,1343.5 1299.0,1343.6 1301.0,1343.6 1303.0,1343.7 1305.0,1343.8 1307.0,1344.0 1309.0,1344.1 1311.0,1344.2 1313.0,1344.3 1315.0,1344.5 1317.0,1344.6 1319.0,1344.7 1321.0,1344.9 1323.0,1345.0 1325.0,1345.2 1327.0,1345.4 1329.1,1345.5 1331.1,1345.7 1333.1,1345.9 1335.1,1346.0 1337.1,1346.2 1339.1,1346.4 1341.1,1346.6 1343.1,1346.8 1345.1,1347.1 1347.1,1347.3 1349.1,1347.5 1351.1,1347.8 1353.1,1348.0 1355.1,1348.3 1357.1,1348.6 1359.1,1348.9 1361.1,1349.2 1363.1,1349.5 1365.1,1349.8 1367.1,1350.2 1369.1,1350.6 1371.1,1351.0 1373.1,1351.4 1375.1,1351.9 1377.1,1352.3 1379.1,1352.8 1381.1,1353.3 1383.1,1353.8 1385.1,1354.4 1387.1,1355.0 1389.1,1355.6 1391.1,1356.2 1393.1,1356.8 1395.1,1357.5 1397.1,1358.1 1399.1,1358.7 1401.1,1359.3 1403.1,1359.9 1405.1,1360.5 1407.1,1361.1 1409.1,1361.7 1411.1,1362.3 1413.1,1362.9 1415.1,1363.5 1417.1,1364.1 1419.1,1364.7 1421.1,1365.4 1423.1,1366.0 1425.1,1366.7 1427.1,1367.3 1429.1,1368.0 1431.1,1368.7 1433.1,1369.4 1435.1,1370.0 1437.1,1370.7 1439.1,1371.3 1441.1,1372.0 1443.1,1372.6 1445.1,1373.2 1447.1,1373.8 1449.1,1374.5 1451.1,1375.1 1453.1,1375.7 1455.1,1376.2 1457.1,1376.8 1459.2,1377.4 1461.2,1377.9 1463.2,1378.4 1465.2,1378.9 1467.2,1379.4 1469.2,1379.8 1471.2,1380.3 1473.2,1380.8 1475.2,1381.2 1477.2,1381.7 1479.2,1382.2 1481.2,1382.7 1483.2,1383.2 1485.2,1383.7 1487.2,1384.2 1489.2,1384.7 1491.2,1385.2 1493.2,1385.7 1495.2,1386.3 1497.2,1386.8 1499.2,1387.4 1501.2,1387.9 1503.2,1388.5 1505.2,1389.1 1507.2,1389.7 1509.2,1390.3 1511.2,1390.9 1513.2,1391.6 1515.2,1392.2 1517.2,1392.9 1519.2,1393.7 1521.2,1394.5 1523.2,1395.3 1525.2,1396.3 1527.2,1397.2 1529.2,1398.3 1531.2,1399.3 1533.2,1400.4 1535.2,1401.4 1537.2,1402.5 1539.2,1403.6 1541.2,1404.6 1543.2,1405.7 1545.2,1406.9 1547.2,1408.0 1549.2,1409.2 1551.2,1410.4 1553.2,1411.5 1555.2,1412.6 1557.2,1413.6 1559.2,1414.6 1561.2,1415.6 1563.2,1416.5 1565.2,1417.4 1567.2,1418.3 1569.2,1419.2 1571.2,1420.0 1573.2,1420.8 1575.2,1421.5 1577.2,1422.2 1579.2,1422.8 1581.2,1423.3 1583.2,1423.9 1585.2,1424.4 1587.2,1424.8 1589.2,1425.3 1591.3,1425.7 1593.3,1426.1 1595.3,1426.4 1597.3,1426.7 1599.3,1426.9 1601.3,1427.1 1603.3,1427.2 1605.3,1427.4 1607.3,1427.5 1609.3,1427.6 1611.3,1427.7 1613.3,1427.8 1615.3,1427.8 1617.3,1427.9 1619.3,1428.0 1621.3,1428.0 1623.3,1428.1 1625.3,1428.2 1627.3,1428.2 1629.3,1428.3 1631.3,1428.3 1633.3,1428.4 1635.3,1428.4 1637.3,1428.5 1639.3,1428.5 1641.3,1428.6 1643.3,1428.6 1645.3,1428.7 1647.3,1428.7 1649.3,1428.8 1651.3,1428.8 1653.3,1428.9 1655.3,1429.0 1657.3,1429.0 1659.3,1429.1 1661.3,1429.2 1663.3,1429.3 1665.3,1429.4 1667.3,1429.5 1669.3,1429.6 1671.3,1429.7 1673.3,1429.8 1675.3,1429.9 1677.3,1430.1 1679.3,1430.3 1681.3,1430.4 1683.3,1430.6 1685.3,1430.8 1687.3,1431.0 1689.3,1431.2 1691.3,1431.4 1693.3,1431.6 1695.3,1431.9 1697.3,1432.1 1699.3,1432.3 1701.3,1432.6 1703.3,1432.8 1705.3,1433.0 1707.3,1433.3 1709.3,1433.6 1711.3,1433.9 1713.3,1434.1 1715.3,1434.4 1717.3,1434.8 1719.3,1435.1 1721.4,1435.4 1723.4,1435.8 1725.4,1436.1 1727.4,1436.5 1729.4,1436.9 1731.4,1437.3 1733.4,1437.7 1735.4,1438.2 1737.4,1438.7 1739.4,1439.2 1741.4,1439.8 1743.4,1440.4 1745.4,1441.0 1747.4,1441.6 1749.4,1442.2 1751.4,1442.8 1753.4,1443.5 1755.4,1444.2 1757.4,1445.0 1759.4,1445.7 1761.4,1446.5 1763.4,1447.3 1765.4,1448.1 1767.4,1448.9 1769.4,1449.7 1771.4,1450.6 1773.4,1451.4 1775.4,1452.3 1777.4,1453.2 1779.4,1454.1 1781.4,1455.0 1783.4,1455.9 1785.4,1456.8 1787.4,1457.8 1789.4,1458.7 1791.4,1459.7 1793.4,1460.7 1795.4,1461.7 1797.4,1462.7 1799.4,1463.8 1801.4,1464.8 1803.4,1465.8 1805.4,1466.8 1807.4,1467.8 1809.4,1468.7 1811.4,1469.6 1813.4,1470.5 1815.4,1471.3 1817.4,1472.2 1819.4,1473.0 1821.4,1473.8 1823.4,1474.5 1825.4,1475.3 1827.4,1476.1 1829.4,1476.8 1831.4,1477.5 1833.4,1478.2 1835.4,1478.9 1837.4,1479.6 1839.4,1480.2 1841.4,1480.9 1843.4,1481.5 1845.4,1482.1 1847.4,1482.8 1849.4,1483.4 1851.4,1484.1 1853.5,1484.7 1855.5,1485.3 1857.5,1485.9 1859.5,1486.5 1861.5,1487.1 1863.5,1487.7 1865.5,1488.3 1867.5,1489.0 1869.5,1489.8 1871.5,1490.6 1873.5,1491.5 1875.5,1492.5 1877.5,1493.5 1879.5,1494.7 1881.5,1496.0 1883.5,1497.4 1885.5,1499.1 1887.5,1500.8 1889.5,1502.5 1891.5,1504.3 1893.5,1506.2 1895.5,1508.2 1897.5,1510.3 1899.5,1512.4 1901.5,1514.7 1903.5,1517.0 1905.5,1519.3 1907.5,1521.8 1909.5,1524.3 1911.5,1527.0 1913.5,1529.8 1915.5,1532.6 1917.5,1535.5 1919.5,1538.3 1921.5,1541.1 1923.5,1543.8 1925.5,1546.5 1927.5,1549.1 1929.5,1551.5 1931.5,1553.6 1933.5,1555.5 1935.5,1557.4 1937.5,1559.1 1939.5,1560.6 1941.5,1562.1 1943.5,1563.5 1945.5,1564.8 1947.5,1565.9 1949.5,1566.8 1951.5,1567.5 1953.5,1568.1 1955.5,1568.7 1957.5,1569.1 1959.5,1569.5 1961.5,1569.9 1963.5,1570.2 1965.5,1570.4 1967.5,1570.7 1969.5,1571.0 1971.5,1571.2 1973.5,1571.4 1975.5,1571.6 1977.5,1571.8 1979.5,1572.0 1981.5,1572.1 1983.6,1572.3 1985.6,1572.5 1987.6,1572.7 1989.6,1572.9 1991.6,1573.0 1993.6,1573.2 1995.6,1573.4 1997.6,1573.5 1999.6,1573.6 2001.6,1573.8 2003.6,1573.9 2005.6,1573.9 2007.6,1574.0 2009.6,1574.0 2011.6,1574.0 2013.6,1574.0 2015.6,1574.0 2017.6,1574.0 2019.6,1574.0 2021.6,1574.0 2023.6,1574.0 2025.6,1574.0 2027.6,1574.0 2029.6,1574.0 2031.6,1574.0 2033.6,1574.0 2035.6,1574.0 2037.6,1574.0 2039.6,1574.0 2041.6,1574.0 2043.6,1574.0 2045.6,1574.0 2047.6,1574.0"/>
<polyline filter="url(#th_p4)" stroke="#0000ff" stroke-width="2" points="1263.0,1339.6 1265.0,1339.5 1267.0,1339.5 1269.0,1339.4 1271.0,1339.4 1273.0,1339.3 1275.0,1339.3 1277.0,1339.3 1279.0,1339.3 1281.0,1339.3 1283.0,1339.2 1285.0,1339.2 1287.0,1339.2 1289.0,1339.2 1291.0,1339.2 1293.0,1339.2 1295.0,1339.2 1297.0,1339.2 1299.0,1339.2 1301.0,1339.2 1303.0,1339.2 1305.0,1339.2 1307.0,1339.3 1309.0,1339.3 1311.0,1339.3 1313.0,1339.4 1315.0,1339.4 1317.0,1339.5 1319.0,1339.6 1321.0,1339.6 1323.0,1339.7 1325.0,1339.8 1327.0,1339.9 1329.1,1340.0 1331.1,1340.0 1333.1,1340.2 1335.1,1340.3 1337.1,1340.4 1339.1,1340.6 1341.1,1340.8 1343.1,1341.0 1345.1,1341.2 1347.1,1341.4 1349.1,1341.7 1351.1,1341.9 1353.1,1342.1 1355.1,1342.4 1357.1,1342.6 1359.1,1342.9 1361.1,1343.1 1363.1,1343.4 1365.1,1343.7 1367.1,1343.9 1369.1,1344.2 1371.1,1344.5 1373.1,1344.9 1375.1,1345.2 1377.1,1345.5 1379.1,1345.8 1381.1,1346.2 1383.1,1346.6 1385.1,1346.9 1387.1,1347.3 1389.1,1347.7 1391.1,1348.2 1393.1,1348.6 1395.1,1349.0 1397.1,1349.4 1399.1,1349.8 1401.1,1350.2 1403.1,1350.6 1405.1,1351.0 1407.1,1351.5 1409.1,1351.9 1411.1,1352.3 1413.1,1352.7 1415.1,1353.1 1417.1,1353.5 1419.1,1353.8 1421.1,1354.2 1423.1,1354.6 1425.1,1355.0 1427.1,1355.4 1429.1,1355.8 1431.1,1356.1 1433.1,1356.4 1435.1,1356.7 1437.1,1356.9 1439.1,1357.0 1441.1,1357.0 1443.1,1357.0 1445.1,1357.0 1447.1,1357.0 1449.1,1357.0 1451.1,1357.0 1453.1,1357.0 1455.1,1357.0 1457.1,1357.0 1459.2,1356.8 1461.2,1356.5 1463.2,1356.1 1465.2,1355.7 1467.2,1355.2 1469.2,1354.6 1471.2,1354.1 1473.2,1353.4 1475.2,1352.5 1477.2,1351.5 1479.2,1350.5 1481.2,1349.3 1483.2,1348.0 1485.2,1346.4 1487.2,1344.7 1489.2,1342.8 1491.2,1340.7 1493.2,1338.3 1495.2,1335.5 1497.2,1332.5 1499.2,1329.3 1501.2,1326.0 1503.2,1322.3 1505.2,1318.2 1507.2,1313.8 1509.2,1309.2 1511.2,1304.1 1513.2,1298.4 1515.2,1292.2 1517.2,1285.0 1519.2,1277.3 1521.2,1269.0 1523.2,1259.9 1525.2,1250.1 1527.2,1239.4 1529.2,1227.3 1531.2,1214.8 1533.2,1202.6 1535.2,1190.0 1537.2,1178.2 1539.2,1167.9 1541.2,1158.4 1543.2,1150.5 1545.2,1144.5 1547.2,1139.9 1549.2,1138.2 1551.2,1137.6 1553.2,1139.2 1555.2,1142.4 1557.2,1148.9 1559.2,1158.2 1561.2,1168.6 1563.2,1181.1 1565.2,1193.9 1567.2,1207.3 1569.2,1220.9 1571.2,1234.3 1573.2,1247.9 1575.2,1261.1 1577.2,1273.8 1579.2,1286.3 1581.2,1297.9 1583.2,1308.4 1585.2,1318.2 1587.2,1327.0 1589.2,1334.7 1591.3,1341.9 1593.3,1348.4 1595.3,1354.1 1597.3,1359.0 1599.3,1363.3 1601.3,1367.2 1603.3,1370.8 1605.3,1374.1 1607.3,1377.2 1609.3,1380.1 1611.3,1382.8 1613.3,1385.2 1615.3,1387.4 1617.3,1389.4 1619.3,1391.2 1621.3,1392.9 1623.3,1394.5 1625.3,1395.9 1627.3,1397.3 1629.3,1398.5 1631.3,1399.7 1633.3,1400.8 1635.3,1401.7 1637.3,1402.5 1639.3,1403.1 1641.3,1403.7 1643.3,1404.2 1645.3,1404.7 1647.3,1405.3 1649.3,1405.8 1651.3,1406.4 1653.3,1407.0 1655.3,1407.7 1657.3,1408.3 1659.3,1408.8 1661.3,1409.3 1663.3,1409.8 1665.3,1410.2 1667.3,1410.6 1669.3,1411.0 1671.3,1411.4 1673.3,1411.8 1675.3,1412.2 1677.3,1412.5 1679.3,1412.9 1681.3,1413.2 1683.3,1413.5 1685.3,1413.9 1687.3,1414.2 1689.3,1414.5 1691.3,1414.7 1693.3,1415.0 1695.3,1415.3 1697.3,1415.6 1699.3,1415.9 1701.3,1416.2 1703.3,1416.5 1705.3,1416.8 1707.3,1417.1 1709.3,1417.4 1711.3,1417.7 1713.3,1418.0 1715.3,1418.3 1717.3,1418.6 1719.3,1418.9 1721.4,1419.2 1723.4,1419.5 1725.4,1419.9 1727.4,1420.2 1729.4,1420.5 1731.4,1420.8 1733.4,1421.2 1735.4,1421.5 1737.4,1421.9 1739.4,1422.3 1741.4,1422.7 1743.4,1423.1 1745.4,1423.5 1747.4,1424.0 1749.4,1424.4 1751.4,1424.9 1753.4,1425.4 1755.4,1425.9 1757.4,1426.4 1759.4,1426.9 1761.4,1427.3 1763.4,1427.8 1765.4,1428.3 1767.4,1428.9 1769.4,1429.4 1771.4,1429.9 1773.4,1430.4 1775.4,1430.9 1777.4,1431.4 1779.4,1431.9 1781.4,1432.3 1783.4,1432.8 1785.4,1433.3 1787.4,1433.7 1789.4,1434.2 1791.4,1434.6 1793.4,1434.9 1795.4,1435.1 1797.4,1435.3 1799.4,1435.5 1801.4,1435.6 1803.4,1435.8 1805.4,1435.9 1807.4,1436.0 1809.4,1436.0 1811.4,1436.0 1813.4,1435.8 1815.4,1435.6 1817.4,1435.3 1819.4,1435.0 1821.4,1434.6 1823.4,1434.1 1825.4,1433.6 1827.4,1432.9 1829.4,1432.0 1831.4,1430.9 1833.4,1429.7 1835.4,1428.4 1837.4,1427.0 1839.4,1425.3 1841.4,1423.3 1843.4,1421.1 1845.4,1418.7 1847.4,1416.0 1849.4,1412.7 1851.4,1409.0 1853.5,1405.1 1855.5,1401.0 1857.5,1396.5 1859.5,1391.5 1861.5,1385.8 1863.5,1379.4 1865.5,1372.1 1867.5,1363.6 1869.5,1353.7 1871.5,1342.9 1873.5,1331.7 1875.5,1319.5 1877.5,1307.2 1879.5,1296.2 1881.5,1285.5 1883.5,1267.8 1885.5,1243.6 1887.5,1224.6 1889.5,1205.5 1891.5,1183.2 1893.5,1159.2 1895.5,1135.7 1897.5,1114.4 1899.5,1094.2 1901.5,1074.9 1903.5,1055.6 1905.5,1036.4 1907.5,1019.6 1909.5,1006.1 1911.5,995.6 1913.5,990.2 1915.5,987.6 1917.5,990.8 1919.5,998.5 1921.5,1015.5 1923.5,1034.2 1925.5,1054.8 1927.5,1076.2 1929.5,1098.5 1931.5,1121.5 1933.5,1144.7 1935.5,1165.2 1937.5,1184.8 1939.5,1208.2 1941.5,1234.0 1943.5,1258.6 1945.5,1282.6 1947.5,1306.1 1949.5,1329.1 1951.5,1348.7 1953.5,1366.1 1955.5,1382.2 1957.5,1396.8 1959.5,1409.8 1961.5,1421.4 1963.5,1432.3 1965.5,1442.5 1967.5,1451.9 1969.5,1460.8 1971.5,1469.1 1973.5,1476.5 1975.5,1482.7 1977.5,1488.2 1979.5,1493.0 1981.5,1497.3 1983.6,1501.2 1985.6,1504.8 1987.6,1508.2 1989.6,1511.3 1991.6,1514.3 1993.6,1517.1 1995.6,1519.7 1997.6,1522.2 1999.6,1524.5 2001.6,1526.7 2003.6,1528.9 2005.6,1531.0 2007.6,1532.9 2009.6,1534.6 2011.6,1536.3 2013.6,1537.8 2015.6,1539.2 2017.6,1540.5 2019.6,1541.8 2021.6,1542.9 2023.6,1544.0 2025.6,1545.0 2027.6,1545.9 2029.6,1546.8 2031.6,1547.7 2033.6,1548.6 2035.6,1549.4 2037.6,1550.2 2039.6,1550.9 2041.6,1551.5 2043.6,1552.1 2045.6,1552.6 2047.6,1553.0"/>
<polyline filter="url(#th_p4)" stroke="#ff00ff" stroke-width="2" points="1263.0,1332.5 1265.0,1332.2 1267.0,1331.9 1269.0,1331.6 1271.0,1331.3 1273.0,1331.0 1275.0,1330.7 1277.0,1330.4 1279.0,1330.1 1281.0,1329.9 1283.0,1329.6 1285.0,1329.3 1287.0,1329.0 1289.0,1328.7 1291.0,1328.4 1293.0,1328.1 1295.0,1327.8 1297.0,1327.5 1299.0,1327.2 1301.0,1326.8 1303.0,1326.4 1305.0,1326.0 1307.0,1325.6 1309.0,1325.2 1311.0,1324.7 1313.0,1324.2 1315.0,1323.7 1317.0,1323.2 1319.0,1322.7 1321.0,1322.1 1323.0,1321.5 1325.0,1320.8 1327.0,1320.2 1329.1,1319.4 1331.1,1318.7 1333.1,1317.9 1335.1,1317.1 1337.1,1316.3 1339.1,1315.4 1341.1,1314.5 1343.1,1313.6 1345.1,1312.6 1347.1,1311.6 1349.1,1310.6 1351.1,1309.5 1353.1,1308.4 1355.1,1307.2 1357.1,1305.9 1359.1,1304.6 1361.1,1303.2 1363.1,1301.7 1365.1,1300.1 1367.1,1298.3 1369.1,1296.5 1371.1,1294.6 1373.1,1292.7 1375.1,1290.8 1377.1,1288.8 1379.1,1286.9 1381.1,1285.0 1383.1,1283.0 1385.1,1281.0 1387.1,1278.9 1389.1,1276.9 1391.1,1274.8 1393.1,1272.8 1395.1,1270.9 1397.1,1268.9 1399.1,1266.9 1401.1,1264.9 1403.1,1263.0 1405.1,1261.2 1407.1,1259.6 1409.1,1258.3 1411.1,1256.9 1413.1,1255.8 1415.1,1255.1 1417.1,1255.0 1419.1,1255.0 1421.1,1255.0 1423.1,1255.0 1425.1,1255.2 1427.1,1256.1 1429.1,1257.6 1431.1,1259.3 1433.1,1261.0 1435.1,1263.1 1437.1,1265.4 1439.1,1267.9 1441.1,1270.4 1443.1,1273.1 1445.1,1275.9 1447.1,1278.8 1449.1,1281.8 1451.1,1284.7 1453.1,1287.6 1455.1,1290.6 1457.1,1293.6 1459.2,1296.7 1461.2,1299.8 1463.2,1303.1 1465.2,1306.4 1467.2,1309.7 1469.2,1312.8 1471.2,1315.6 1473.2,1318.4 1475.2,1321.0 1477.2,1323.5 1479.2,1326.0 1481.2,1328.4 1483.2,1330.6 1485.2,1332.8 1487.2,1334.9 1489.2,1337.1 1491.2,1339.3 1493.2,1341.5 1495.2,1343.8 1497.2,1346.0 1499.2,1348.1 1501.2,1350.2 1503.2,1352.3 1505.2,1354.4 1507.2,1356.4 1509.2,1358.3 1511.2,1360.0 1513.2,1361.7 1515.2,1363.3 1517.2,1364.8 1519.2,1366.4 1521.2,1368.0 1523.2,1369.6 1525.2,1371.2 1527.2,1372.9 1529.2,1374.5 1531.2,1376.1 1533.2,1377.7 1535.2,1379.3 1537.2,1380.9 1539.2,1382.4 1541.2,1383.9 1543.2,1385.4 1545.2,1387.0 1547.2,1388.5 1549.2,1390.0 1551.2,1391.4 1553.2,1392.8 1555.2,1394.2 1557.2,1395.4 1559.2,1396.6 1561.2,1397.7 1563.2,1398.7 1565.2,1399.8 1567.2,1400.8 1569.2,1401.8 1571.2,1402.7 1573.2,1403.6 1575.2,1404.3 1577.2,1404.9 1579.2,1405.4 1581.2,1405.8 1583.2,1406.2 1585.2,1406.5 1587.2,1406.9 1589.2,1407.2 1591.3,1407.4 1593.3,1407.6 1595.3,1407.8 1597.3,1407.9 1599.3,1408.0 1601.3,1408.0 1603.3,1408.0 1605.3,1408.0 1607.3,1407.9 1609.3,1407.9 1611.3,1407.9 1613.3,1407.8 1615.3,1407.8 1617.3,1407.7 1619.3,1407.6 1621.3,1407.5 1623.3,1407.4 1625.3,1407.2 1627.3,1406.9 1629.3,1406.6 1631.3,1406.2 1633.3,1405.8 1635.3,1405.3 1637.3,1404.9 1639.3,1404.4 1641.3,1403.9 1643.3,1403.5 1645.3,1403.0 1647.3,1402.6 1649.3,1402.1 1651.3,1401.8 1653.3,1401.4 1655.3,1401.0 1657.3,1400.6 1659.3,1400.2 1661.3,1399.6 1663.3,1399.1 1665.3,1398.4 1667.3,1397.7 1669.3,1396.9 1671.3,1396.1 1673.3,1395.2 1675.3,1394.3 1677.3,1393.3 1679.3,1392.3 1681.3,1391.3 1683.3,1390.2 1685.3,1389.0 1687.3,1387.7 1689.3,1386.3 1691.3,1384.9 1693.3,1383.4 1695.3,1381.9 1697.3,1380.2 1699.3,1378.6 1701.3,1376.8 1703.3,1375.0 1705.3,1373.0 1707.3,1370.9 1709.3,1368.7 1711.3,1366.5 1713.3,1364.1 1715.3,1361.7 1717.3,1359.3 1719.3,1356.8 1721.4,1354.3 1723.4,1351.7 1725.4,1348.9 1727.4,1346.0 1729.4,1343.0 1731.4,1339.8 1733.4,1336.4 1735.4,1332.8 1737.4,1329.1 1739.4,1325.3 1741.4,1321.3 1743.4,1317.2 1745.4,1312.9 1747.4,1308.4 1749.4,1303.6 1751.4,1298.1 1753.4,1291.7 1755.4,1285.6 1757.4,1280.7 1759.4,1276.3 1761.4,1272.2 1763.4,1268.3 1765.4,1264.7 1767.4,1261.1 1769.4,1257.5 1771.4,1253.8 1773.4,1250.2 1775.4,1247.1 1777.4,1244.6 1779.4,1242.8 1781.4,1241.1 1783.4,1239.7 1785.4,1239.0 1787.4,1239.2 1789.4,1240.2 1791.4,1241.6 1793.4,1243.4 1795.4,1245.8 1797.4,1249.5 1799.4,1254.0 1801.4,1258.7 1803.4,1263.3 1805.4,1268.2 1807.4,1273.4 1809.4,1278.5 1811.4,1283.5 1813.4,1288.5 1815.4,1293.9 1817.4,1299.8 1819.4,1305.9 1821.4,1312.1 1823.4,1318.3 1825.4,1324.3 1827.4,1330.4 1829.4,1336.4 1831.4,1342.5 1833.4,1348.4 1835.4,1354.2 1837.4,1359.9 1839.4,1365.6 1841.4,1371.2 1843.4,1376.6 1845.4,1381.7 1847.4,1386.7 1849.4,1391.6 1851.4,1396.3 1853.5,1400.8 1855.5,1405.1 1857.5,1409.3 1859.5,1413.3 1861.5,1417.2 1863.5,1421.0 1865.5,1424.8 1867.5,1428.5 1869.5,1432.2 1871.5,1435.8 1873.5,1439.2 1875.5,1442.2 1877.5,1445.0 1879.5,1447.7 1881.5,1450.4 1883.5,1453.2 1885.5,1456.3 1887.5,1459.5 1889.5,1462.8 1891.5,1466.1 1893.5,1469.2 1895.5,1472.1 1897.5,1474.9 1899.5,1477.5 1901.5,1480.3 1903.5,1483.2 1905.5,1486.5 1907.5,1490.0 1909.5,1493.8 1911.5,1497.5 1913.5,1501.1 1915.5,1504.5 1917.5,1507.8 1919.5,1511.1 1921.5,1514.2 1923.5,1517.3 1925.5,1520.2 1927.5,1523.2 1929.5,1526.0 1931.5,1528.8 1933.5,1531.4 1935.5,1533.8 1937.5,1536.2 1939.5,1538.5 1941.5,1540.6 1943.5,1542.6 1945.5,1544.4 1947.5,1546.2 1949.5,1547.9 1951.5,1549.5 1953.5,1550.7 1955.5,1551.8 1957.5,1552.7 1959.5,1553.5 1961.5,1554.3 1963.5,1555.0 1965.5,1555.7 1967.5,1556.3 1969.5,1556.9 1971.5,1557.4 1973.5,1558.0 1975.5,1558.5 1977.5,1559.0 1979.5,1559.5 1981.5,1559.9 1983.6,1560.4 1985.6,1560.8 1987.6,1561.2 1989.6,1561.5 1991.6,1561.9 1993.6,1562.2 1995.6,1562.5 1997.6,1562.8 1999.6,1563.1 2001.6,1563.4 2003.6,1563.7 2005.6,1563.9 2007.6,1564.1 2009.6,1564.4 2011.6,1564.6 2013.6,1564.8 2015.6,1564.9 2017.6,1565.1 2019.6,1565.3 2021.6,1565.5 2023.6,1565.6 2025.6,1565.8 2027.6,1565.9 2029.6,1566.0 2031.6,1566.1 2033.6,1566.2 2035.6,1566.3 2037.6,1566.3 2039.6,1566.4 2041.6,1566.5 2043.6,1566.5 2045.6,1566.6 2047.6,1566.6"/>
</g>
<defs>
<clipPath id="c_p1"><rect x="174" y="80" width="934" height="779"/></clipPath>
<filter id="th_p1" filterUnits="userSpaceOnUse" x="164" y="70" width="954" height="799" color-interpolation-filters="sRGB"><feComponentTransfer><feFuncA type="discrete" tableValues="0 1"/></feComponentTransfer></filter>
<clipPath id="c_p2"><rect x="1115" y="80" width="942" height="779"/></clipPath>
<filter id="th_p2" filterUnits="userSpaceOnUse" x="1105" y="70" width="962" height="799" color-interpolation-filters="sRGB"><feComponentTransfer><feFuncA type="discrete" tableValues="0 1"/></feComponentTransfer></filter>
<clipPath id="c_p3"><rect x="174" y="866" width="934" height="769"/></clipPath>
<filter id="th_p3" filterUnits="userSpaceOnUse" x="164" y="856" width="954" height="789" color-interpolation-filters="sRGB"><feComponentTransfer><feFuncA type="discrete" tableValues="0 1"/></feComponentTransfer></filter>
<clipPath id="c_p4"><rect x="1115" y="866" width="945" height="769"/></clipPath>
<filter id="th_p4" filterUnits="userSpaceOnUse" x="1105" y="856" width="965" height="789" color-interpolation-filters="sRGB"><feComponentTransfer><feFuncA type="discrete" tableValues="0 1"/></feComponentTransfer></filter>
<filter id="th" filterUnits="userSpaceOnUse" x="0" y="0" width="2498" height="1843" color-interpolation-filters="sRGB"><feComponentTransfer><feFuncA type="discrete" tableValues="0 1"/></feComponentTransfer></filter>
</defs>
<g fill="#000">
<rect x="167" y="83" width="7" height="1559"/>
<rect x="1108" y="83" width="7" height="1559"/>
<rect x="167" y="859" width="1892" height="7"/>
<rect x="167" y="1635" width="1892" height="7"/>
<rect x="272.0" y="833" width="7" height="28" rx="2"/>
<rect x="481.8" y="833" width="7" height="28" rx="2"/>
<rect x="691.5" y="833" width="7" height="28" rx="2"/>
<rect x="901.2" y="833" width="7" height="28" rx="2"/>
<rect x="1213.0" y="833" width="7" height="28" rx="2"/>
<rect x="1422.8" y="833" width="7" height="28" rx="2"/>
<rect x="1632.5" y="833" width="7" height="28" rx="2"/>
<rect x="1842.2" y="833" width="7" height="28" rx="2"/>
<rect x="2052.0" y="833" width="7" height="28" rx="2"/>
<rect x="272.0" y="1609" width="7" height="28" rx="2"/>
<rect x="481.8" y="1609" width="7" height="28" rx="2"/>
<rect x="691.5" y="1609" width="7" height="28" rx="2"/>
<rect x="901.2" y="1609" width="7" height="28" rx="2"/>
<rect x="1213.0" y="1609" width="7" height="28" rx="2"/>
<rect x="1422.8" y="1609" width="7" height="28" rx="2"/>
<rect x="1632.5" y="1609" width="7" height="28" rx="2"/>
<rect x="1842.2" y="1609" width="7" height="28" rx="2"/>
<rect x="2052.0" y="1609" width="7" height="28" rx="2"/>
</g>
<g filter="url(#th)">
<line x1="963.0" y1="222.0" x2="849.5" y2="112.3" stroke="#0000ff" stroke-width="7.5" stroke-linecap="round"/>
<polygon points="831.5,94.9 854.2,107.5 844.8,117.2" fill="#0000ff" stroke="#0000ff" stroke-width="7.0" stroke-linejoin="round"/>
<text transform="translate(630.80 73.70) scale(0.9542 1)" font-size="78.46" fill="#0000ff">Ni (II)</text>
</g>
<g filter="url(#th)">
<line x1="852.5" y1="400.0" x2="803.1" y2="283.7" stroke="#ff00ff" stroke-width="7.5" stroke-linecap="round"/>
<polygon points="793.4,260.7 809.4,281.1 796.9,286.4" fill="#ff00ff" stroke="#ff00ff" stroke-width="7.0" stroke-linejoin="round"/>
<text transform="translate(611.50 231.80) scale(0.9630 1)" font-size="77.85" fill="#ff00ff">Ni (III)</text>
</g>
<g filter="url(#th)">
<line x1="1370.0" y1="230.0" x2="1460.9" y2="348.3" stroke="#ff0000" stroke-width="7.5" stroke-linecap="round"/>
<polygon points="1476.2,368.1 1455.6,352.4 1466.3,344.2" fill="#ff0000" stroke="#ff0000" stroke-width="7.0" stroke-linejoin="round"/>
<line x1="2086.5" y1="215.3" x2="1966.9" y2="298.8" stroke="#ff0000" stroke-width="7.5" stroke-linecap="round"/>
<polygon points="1946.4,313.1 1963.0,293.3 1970.7,304.3" fill="#ff0000" stroke="#ff0000" stroke-width="7.0" stroke-linejoin="round"/>
<text transform="translate(1199.40 159.20) scale(0.9562 1)" font-size="78.46" fill="#ff0000">Ni 2p</text>
<text transform="translate(1370.17 189.20) scale(0.9541 1)" font-size="47.58" fill="#ff0000">1/2</text>
<text transform="translate(1221.42 250.20) scale(0.9720 1)" font-size="78.06" fill="#ff0000">875</text>
<text transform="translate(2079.60 182.00) scale(0.9562 1)" font-size="78.46" fill="#ff0000">Ni 2p</text>
<text transform="translate(2250.17 212.20) scale(0.9626 1)" font-size="47.58" fill="#ff0000">3/2</text>
<text transform="translate(2101.54 273.10) scale(0.9648 1)" font-size="78.06" fill="#ff0000">857</text>
<line x1="2006.7" y1="1172.4" x2="2083.3" y2="1172.4" stroke="#ff0000" stroke-width="7.4" stroke-linecap="round"/>
</g>
<g filter="url(#th)">
<text transform="translate(207.75 776.60) scale(0.9270 1)" font-size="67.23" fill="#000">Pd-Ni/CNF 1:2</text>
<text transform="translate(1145.66 776.60) scale(0.9223 1)" font-size="67.23" fill="#000">Pd-Ni/CNFO 1:2</text>
<text transform="translate(207.75 1553.00) scale(0.9331 1)" font-size="67.23" fill="#000">Pd-Ni/CNFN 1:2</text>
<text transform="translate(1145.65 1553.00) scale(0.9262 1)" font-size="67.23" fill="#000">Pd-Ni/CB 1:2</text>
<text transform="translate(233.09 1694.80) scale(0.9487 1)" font-size="60.00" fill="#000">890</text>
<text transform="translate(442.84 1694.80) scale(0.9487 1)" font-size="60.00" fill="#000">880</text>
<text transform="translate(652.59 1694.80) scale(0.9487 1)" font-size="60.00" fill="#000">870</text>
<text transform="translate(862.34 1694.80) scale(0.9487 1)" font-size="60.00" fill="#000">860</text>
<text transform="translate(1174.09 1694.80) scale(0.9487 1)" font-size="60.00" fill="#000">890</text>
<text transform="translate(1383.84 1694.80) scale(0.9487 1)" font-size="60.00" fill="#000">880</text>
<text transform="translate(1593.59 1694.80) scale(0.9487 1)" font-size="60.00" fill="#000">870</text>
<text transform="translate(1803.34 1694.80) scale(0.9487 1)" font-size="60.00" fill="#000">860</text>
<text transform="translate(2013.09 1694.80) scale(0.9487 1)" font-size="60.00" fill="#000">850</text>
<text transform="translate(801.12 1812.90) scale(0.9658 1)" font-size="71.23" fill="#000">Binding energy / eV</text>
<text transform="translate(67.70 1100.98) rotate(-90) scale(0.9499 1)" font-size="72.92" fill="#000">Intensity / a.u.</text>
<line x1="2007.2" y1="1266.1" x2="2031.5" y2="1266.1" stroke="#000" stroke-width="10.4" stroke-linecap="round"/>
<line x1="2070.8" y1="1266.1" x2="2083.5" y2="1266.1" stroke="#000" stroke-width="10.4" stroke-linecap="round"/>
<text transform="translate(2093.08 1185.60) scale(0.9506 1)" font-size="78.36" fill="#000">Spectrum</text>
<text transform="translate(2103.41 1278.10) scale(0.9506 1)" font-size="78.46" fill="#000">Fitted curve</text>
</g>
</svg></body></html>
